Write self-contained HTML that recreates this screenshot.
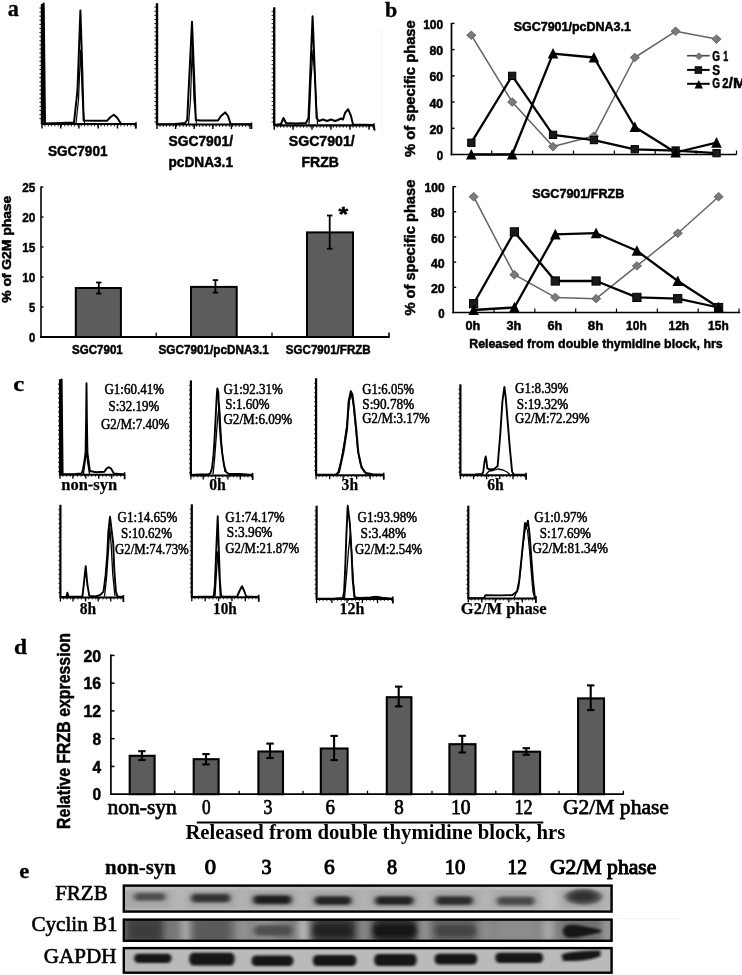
<!DOCTYPE html>
<html><head><meta charset="utf-8"><style>
html,body{margin:0;padding:0;background:#fff;width:742px;height:975px;overflow:hidden}
svg{display:block;will-change:transform}
</style></head><body>
<svg width="742" height="975" viewBox="0 0 742 975" font-family="'Liberation Sans', sans-serif">
<text x="7.80" y="15.60" font-family='"Liberation Serif", serif' font-weight="bold" font-size="24" textLength="11.10" lengthAdjust="spacingAndGlyphs" fill="#000" stroke="#000" stroke-width="0.35" stroke-linejoin="round" >a</text>
<line x1="42" y1="4" x2="42" y2="124.5" stroke="#000" stroke-width="2.4" />
<line x1="42" y1="124" x2="136" y2="124" stroke="#000" stroke-width="2.2" />
<line x1="42" y1="124" x2="42" y2="128.5" stroke="#000" stroke-width="1.4" />
<line x1="60.7" y1="124" x2="60.7" y2="128.5" stroke="#000" stroke-width="1.4" />
<line x1="78.9" y1="124" x2="78.9" y2="128.5" stroke="#000" stroke-width="1.4" />
<line x1="98.2" y1="124" x2="98.2" y2="128.5" stroke="#000" stroke-width="1.4" />
<line x1="117.5" y1="124" x2="117.5" y2="128.5" stroke="#000" stroke-width="1.4" />
<line x1="135.6" y1="124" x2="135.6" y2="128.5" stroke="#000" stroke-width="1.4" />
<line x1="136" y1="122" x2="136" y2="128.5" stroke="#000" stroke-width="1.4" />
<polyline points="42.5,124.0 43.6,3.5 44.9,124.0" fill="none" stroke="#000" stroke-width="2.2" stroke-linejoin="round" />
<polyline points="44.9,123.5 60.0,123.0 74.0,122.5 77.5,90.0 80.4,10.5 82.0,60.0 83.6,120.5 95.0,120.8 107.0,120.8 110.0,117.5 113.8,114.8 117.0,117.5 121.0,123.8 136.0,124.0" fill="none" stroke="#000" stroke-width="2.0" stroke-linejoin="round" />
<polyline points="76.0,123.5 78.5,100.0 80.6,50.0 82.5,100.0 84.5,123.0" fill="none" stroke="#000" stroke-width="1.2" stroke-linejoin="round" />
<line x1="39.4" y1="8" x2="42" y2="8" stroke="#000" stroke-width="0.9" />
<line x1="39.4" y1="12.1" x2="42" y2="12.1" stroke="#000" stroke-width="0.9" />
<line x1="39.4" y1="16.2" x2="42" y2="16.2" stroke="#000" stroke-width="0.9" />
<line x1="39.4" y1="20.299999999999997" x2="42" y2="20.299999999999997" stroke="#000" stroke-width="0.9" />
<line x1="39.4" y1="24.4" x2="42" y2="24.4" stroke="#000" stroke-width="0.9" />
<line x1="39.4" y1="28.5" x2="42" y2="28.5" stroke="#000" stroke-width="0.9" />
<line x1="39.4" y1="32.6" x2="42" y2="32.6" stroke="#000" stroke-width="0.9" />
<line x1="39.4" y1="36.7" x2="42" y2="36.7" stroke="#000" stroke-width="0.9" />
<line x1="39.4" y1="40.800000000000004" x2="42" y2="40.800000000000004" stroke="#000" stroke-width="0.9" />
<line x1="39.4" y1="44.900000000000006" x2="42" y2="44.900000000000006" stroke="#000" stroke-width="0.9" />
<line x1="39.4" y1="49.00000000000001" x2="42" y2="49.00000000000001" stroke="#000" stroke-width="0.9" />
<line x1="39.4" y1="53.10000000000001" x2="42" y2="53.10000000000001" stroke="#000" stroke-width="0.9" />
<line x1="39.4" y1="57.20000000000001" x2="42" y2="57.20000000000001" stroke="#000" stroke-width="0.9" />
<line x1="39.4" y1="61.30000000000001" x2="42" y2="61.30000000000001" stroke="#000" stroke-width="0.9" />
<line x1="39.4" y1="65.4" x2="42" y2="65.4" stroke="#000" stroke-width="0.9" />
<line x1="39.4" y1="69.5" x2="42" y2="69.5" stroke="#000" stroke-width="0.9" />
<line x1="39.4" y1="73.6" x2="42" y2="73.6" stroke="#000" stroke-width="0.9" />
<line x1="39.4" y1="77.69999999999999" x2="42" y2="77.69999999999999" stroke="#000" stroke-width="0.9" />
<line x1="39.4" y1="81.79999999999998" x2="42" y2="81.79999999999998" stroke="#000" stroke-width="0.9" />
<line x1="39.4" y1="85.89999999999998" x2="42" y2="85.89999999999998" stroke="#000" stroke-width="0.9" />
<line x1="39.4" y1="89.99999999999997" x2="42" y2="89.99999999999997" stroke="#000" stroke-width="0.9" />
<line x1="39.4" y1="94.09999999999997" x2="42" y2="94.09999999999997" stroke="#000" stroke-width="0.9" />
<line x1="39.4" y1="98.19999999999996" x2="42" y2="98.19999999999996" stroke="#000" stroke-width="0.9" />
<line x1="39.4" y1="102.29999999999995" x2="42" y2="102.29999999999995" stroke="#000" stroke-width="0.9" />
<line x1="39.4" y1="106.39999999999995" x2="42" y2="106.39999999999995" stroke="#000" stroke-width="0.9" />
<line x1="39.4" y1="110.49999999999994" x2="42" y2="110.49999999999994" stroke="#000" stroke-width="0.9" />
<line x1="39.4" y1="114.59999999999994" x2="42" y2="114.59999999999994" stroke="#000" stroke-width="0.9" />
<line x1="39.4" y1="118.69999999999993" x2="42" y2="118.69999999999993" stroke="#000" stroke-width="0.9" />
<line x1="45" y1="124" x2="45" y2="126.4" stroke="#000" stroke-width="0.9" />
<line x1="48.3" y1="124" x2="48.3" y2="126.4" stroke="#000" stroke-width="0.9" />
<line x1="51.599999999999994" y1="124" x2="51.599999999999994" y2="126.4" stroke="#000" stroke-width="0.9" />
<line x1="54.89999999999999" y1="124" x2="54.89999999999999" y2="126.4" stroke="#000" stroke-width="0.9" />
<line x1="58.19999999999999" y1="124" x2="58.19999999999999" y2="126.4" stroke="#000" stroke-width="0.9" />
<line x1="61.499999999999986" y1="124" x2="61.499999999999986" y2="126.4" stroke="#000" stroke-width="0.9" />
<line x1="64.79999999999998" y1="124" x2="64.79999999999998" y2="126.4" stroke="#000" stroke-width="0.9" />
<line x1="68.09999999999998" y1="124" x2="68.09999999999998" y2="126.4" stroke="#000" stroke-width="0.9" />
<line x1="71.39999999999998" y1="124" x2="71.39999999999998" y2="126.4" stroke="#000" stroke-width="0.9" />
<line x1="74.69999999999997" y1="124" x2="74.69999999999997" y2="126.4" stroke="#000" stroke-width="0.9" />
<line x1="77.99999999999997" y1="124" x2="77.99999999999997" y2="126.4" stroke="#000" stroke-width="0.9" />
<line x1="81.29999999999997" y1="124" x2="81.29999999999997" y2="126.4" stroke="#000" stroke-width="0.9" />
<line x1="84.59999999999997" y1="124" x2="84.59999999999997" y2="126.4" stroke="#000" stroke-width="0.9" />
<line x1="87.89999999999996" y1="124" x2="87.89999999999996" y2="126.4" stroke="#000" stroke-width="0.9" />
<line x1="91.19999999999996" y1="124" x2="91.19999999999996" y2="126.4" stroke="#000" stroke-width="0.9" />
<line x1="94.49999999999996" y1="124" x2="94.49999999999996" y2="126.4" stroke="#000" stroke-width="0.9" />
<line x1="97.79999999999995" y1="124" x2="97.79999999999995" y2="126.4" stroke="#000" stroke-width="0.9" />
<line x1="101.09999999999995" y1="124" x2="101.09999999999995" y2="126.4" stroke="#000" stroke-width="0.9" />
<line x1="104.39999999999995" y1="124" x2="104.39999999999995" y2="126.4" stroke="#000" stroke-width="0.9" />
<line x1="107.69999999999995" y1="124" x2="107.69999999999995" y2="126.4" stroke="#000" stroke-width="0.9" />
<line x1="110.99999999999994" y1="124" x2="110.99999999999994" y2="126.4" stroke="#000" stroke-width="0.9" />
<line x1="114.29999999999994" y1="124" x2="114.29999999999994" y2="126.4" stroke="#000" stroke-width="0.9" />
<line x1="117.59999999999994" y1="124" x2="117.59999999999994" y2="126.4" stroke="#000" stroke-width="0.9" />
<line x1="120.89999999999993" y1="124" x2="120.89999999999993" y2="126.4" stroke="#000" stroke-width="0.9" />
<line x1="124.19999999999993" y1="124" x2="124.19999999999993" y2="126.4" stroke="#000" stroke-width="0.9" />
<line x1="127.49999999999993" y1="124" x2="127.49999999999993" y2="126.4" stroke="#000" stroke-width="0.9" />
<line x1="130.79999999999993" y1="124" x2="130.79999999999993" y2="126.4" stroke="#000" stroke-width="0.9" />
<line x1="134.09999999999994" y1="124" x2="134.09999999999994" y2="126.4" stroke="#000" stroke-width="0.9" />
<line x1="157" y1="3.2" x2="157" y2="125.0" stroke="#000" stroke-width="2.4" />
<line x1="157" y1="124.5" x2="251.6" y2="124.5" stroke="#000" stroke-width="2.2" />
<line x1="157" y1="124.5" x2="157" y2="129.0" stroke="#000" stroke-width="1.4" />
<line x1="175.6" y1="124.5" x2="175.6" y2="129.0" stroke="#000" stroke-width="1.4" />
<line x1="194.2" y1="124.5" x2="194.2" y2="129.0" stroke="#000" stroke-width="1.4" />
<line x1="212.8" y1="124.5" x2="212.8" y2="129.0" stroke="#000" stroke-width="1.4" />
<line x1="231.4" y1="124.5" x2="231.4" y2="129.0" stroke="#000" stroke-width="1.4" />
<line x1="250" y1="124.5" x2="250" y2="129.0" stroke="#000" stroke-width="1.4" />
<line x1="251.6" y1="122.5" x2="251.6" y2="129.0" stroke="#000" stroke-width="1.4" />
<polyline points="157.0,124.3 175.0,124.0 185.0,123.0 187.2,120.0 192.0,21.8 195.8,120.0 200.0,120.5 218.0,120.5 221.0,116.0 225.2,112.4 228.0,116.0 230.6,124.0 251.0,124.3" fill="none" stroke="#000" stroke-width="2.0" stroke-linejoin="round" />
<polyline points="188.5,124.0 190.5,100.0 192.3,45.0 194.0,100.0 196.5,123.5" fill="none" stroke="#000" stroke-width="1.2" stroke-linejoin="round" />
<line x1="154.4" y1="7.2" x2="157" y2="7.2" stroke="#000" stroke-width="0.9" />
<line x1="154.4" y1="11.3" x2="157" y2="11.3" stroke="#000" stroke-width="0.9" />
<line x1="154.4" y1="15.4" x2="157" y2="15.4" stroke="#000" stroke-width="0.9" />
<line x1="154.4" y1="19.5" x2="157" y2="19.5" stroke="#000" stroke-width="0.9" />
<line x1="154.4" y1="23.6" x2="157" y2="23.6" stroke="#000" stroke-width="0.9" />
<line x1="154.4" y1="27.700000000000003" x2="157" y2="27.700000000000003" stroke="#000" stroke-width="0.9" />
<line x1="154.4" y1="31.800000000000004" x2="157" y2="31.800000000000004" stroke="#000" stroke-width="0.9" />
<line x1="154.4" y1="35.900000000000006" x2="157" y2="35.900000000000006" stroke="#000" stroke-width="0.9" />
<line x1="154.4" y1="40.00000000000001" x2="157" y2="40.00000000000001" stroke="#000" stroke-width="0.9" />
<line x1="154.4" y1="44.10000000000001" x2="157" y2="44.10000000000001" stroke="#000" stroke-width="0.9" />
<line x1="154.4" y1="48.20000000000001" x2="157" y2="48.20000000000001" stroke="#000" stroke-width="0.9" />
<line x1="154.4" y1="52.30000000000001" x2="157" y2="52.30000000000001" stroke="#000" stroke-width="0.9" />
<line x1="154.4" y1="56.40000000000001" x2="157" y2="56.40000000000001" stroke="#000" stroke-width="0.9" />
<line x1="154.4" y1="60.500000000000014" x2="157" y2="60.500000000000014" stroke="#000" stroke-width="0.9" />
<line x1="154.4" y1="64.60000000000001" x2="157" y2="64.60000000000001" stroke="#000" stroke-width="0.9" />
<line x1="154.4" y1="68.7" x2="157" y2="68.7" stroke="#000" stroke-width="0.9" />
<line x1="154.4" y1="72.8" x2="157" y2="72.8" stroke="#000" stroke-width="0.9" />
<line x1="154.4" y1="76.89999999999999" x2="157" y2="76.89999999999999" stroke="#000" stroke-width="0.9" />
<line x1="154.4" y1="80.99999999999999" x2="157" y2="80.99999999999999" stroke="#000" stroke-width="0.9" />
<line x1="154.4" y1="85.09999999999998" x2="157" y2="85.09999999999998" stroke="#000" stroke-width="0.9" />
<line x1="154.4" y1="89.19999999999997" x2="157" y2="89.19999999999997" stroke="#000" stroke-width="0.9" />
<line x1="154.4" y1="93.29999999999997" x2="157" y2="93.29999999999997" stroke="#000" stroke-width="0.9" />
<line x1="154.4" y1="97.39999999999996" x2="157" y2="97.39999999999996" stroke="#000" stroke-width="0.9" />
<line x1="154.4" y1="101.49999999999996" x2="157" y2="101.49999999999996" stroke="#000" stroke-width="0.9" />
<line x1="154.4" y1="105.59999999999995" x2="157" y2="105.59999999999995" stroke="#000" stroke-width="0.9" />
<line x1="154.4" y1="109.69999999999995" x2="157" y2="109.69999999999995" stroke="#000" stroke-width="0.9" />
<line x1="154.4" y1="113.79999999999994" x2="157" y2="113.79999999999994" stroke="#000" stroke-width="0.9" />
<line x1="154.4" y1="117.89999999999993" x2="157" y2="117.89999999999993" stroke="#000" stroke-width="0.9" />
<line x1="154.4" y1="121.99999999999993" x2="157" y2="121.99999999999993" stroke="#000" stroke-width="0.9" />
<line x1="160" y1="124.5" x2="160" y2="126.9" stroke="#000" stroke-width="0.9" />
<line x1="163.3" y1="124.5" x2="163.3" y2="126.9" stroke="#000" stroke-width="0.9" />
<line x1="166.60000000000002" y1="124.5" x2="166.60000000000002" y2="126.9" stroke="#000" stroke-width="0.9" />
<line x1="169.90000000000003" y1="124.5" x2="169.90000000000003" y2="126.9" stroke="#000" stroke-width="0.9" />
<line x1="173.20000000000005" y1="124.5" x2="173.20000000000005" y2="126.9" stroke="#000" stroke-width="0.9" />
<line x1="176.50000000000006" y1="124.5" x2="176.50000000000006" y2="126.9" stroke="#000" stroke-width="0.9" />
<line x1="179.80000000000007" y1="124.5" x2="179.80000000000007" y2="126.9" stroke="#000" stroke-width="0.9" />
<line x1="183.10000000000008" y1="124.5" x2="183.10000000000008" y2="126.9" stroke="#000" stroke-width="0.9" />
<line x1="186.4000000000001" y1="124.5" x2="186.4000000000001" y2="126.9" stroke="#000" stroke-width="0.9" />
<line x1="189.7000000000001" y1="124.5" x2="189.7000000000001" y2="126.9" stroke="#000" stroke-width="0.9" />
<line x1="193.0000000000001" y1="124.5" x2="193.0000000000001" y2="126.9" stroke="#000" stroke-width="0.9" />
<line x1="196.30000000000013" y1="124.5" x2="196.30000000000013" y2="126.9" stroke="#000" stroke-width="0.9" />
<line x1="199.60000000000014" y1="124.5" x2="199.60000000000014" y2="126.9" stroke="#000" stroke-width="0.9" />
<line x1="202.90000000000015" y1="124.5" x2="202.90000000000015" y2="126.9" stroke="#000" stroke-width="0.9" />
<line x1="206.20000000000016" y1="124.5" x2="206.20000000000016" y2="126.9" stroke="#000" stroke-width="0.9" />
<line x1="209.50000000000017" y1="124.5" x2="209.50000000000017" y2="126.9" stroke="#000" stroke-width="0.9" />
<line x1="212.80000000000018" y1="124.5" x2="212.80000000000018" y2="126.9" stroke="#000" stroke-width="0.9" />
<line x1="216.1000000000002" y1="124.5" x2="216.1000000000002" y2="126.9" stroke="#000" stroke-width="0.9" />
<line x1="219.4000000000002" y1="124.5" x2="219.4000000000002" y2="126.9" stroke="#000" stroke-width="0.9" />
<line x1="222.70000000000022" y1="124.5" x2="222.70000000000022" y2="126.9" stroke="#000" stroke-width="0.9" />
<line x1="226.00000000000023" y1="124.5" x2="226.00000000000023" y2="126.9" stroke="#000" stroke-width="0.9" />
<line x1="229.30000000000024" y1="124.5" x2="229.30000000000024" y2="126.9" stroke="#000" stroke-width="0.9" />
<line x1="232.60000000000025" y1="124.5" x2="232.60000000000025" y2="126.9" stroke="#000" stroke-width="0.9" />
<line x1="235.90000000000026" y1="124.5" x2="235.90000000000026" y2="126.9" stroke="#000" stroke-width="0.9" />
<line x1="239.20000000000027" y1="124.5" x2="239.20000000000027" y2="126.9" stroke="#000" stroke-width="0.9" />
<line x1="242.50000000000028" y1="124.5" x2="242.50000000000028" y2="126.9" stroke="#000" stroke-width="0.9" />
<line x1="245.8000000000003" y1="124.5" x2="245.8000000000003" y2="126.9" stroke="#000" stroke-width="0.9" />
<line x1="249.1000000000003" y1="124.5" x2="249.1000000000003" y2="126.9" stroke="#000" stroke-width="0.9" />
<line x1="274.2" y1="7.3" x2="274.2" y2="125.8" stroke="#000" stroke-width="2.4" />
<line x1="274.2" y1="125.3" x2="374" y2="125.3" stroke="#000" stroke-width="2.2" />
<line x1="274.2" y1="125.3" x2="274.2" y2="129.8" stroke="#000" stroke-width="1.4" />
<line x1="293" y1="125.3" x2="293" y2="129.8" stroke="#000" stroke-width="1.4" />
<line x1="312" y1="125.3" x2="312" y2="129.8" stroke="#000" stroke-width="1.4" />
<line x1="331" y1="125.3" x2="331" y2="129.8" stroke="#000" stroke-width="1.4" />
<line x1="350" y1="125.3" x2="350" y2="129.8" stroke="#000" stroke-width="1.4" />
<line x1="369" y1="125.3" x2="369" y2="129.8" stroke="#000" stroke-width="1.4" />
<line x1="374" y1="123.3" x2="374" y2="129.8" stroke="#000" stroke-width="1.4" />
<polyline points="274.2,125.0 281.0,124.0 283.5,118.0 286.0,123.0 296.0,123.5 306.0,123.0 308.5,118.0 312.6,16.2 316.6,118.0 319.0,121.0 323.0,119.5 327.0,121.0 331.0,119.5 335.0,121.0 338.0,120.0 341.0,118.5 343.0,119.5 345.0,113.0 348.1,109.2 351.0,116.0 353.0,124.5 374.0,125.0" fill="none" stroke="#000" stroke-width="2.0" stroke-linejoin="round" />
<polyline points="309.0,124.0 311.0,80.0 313.0,50.0 315.0,80.0 317.5,124.0" fill="none" stroke="#000" stroke-width="1.2" stroke-linejoin="round" />
<line x1="271.59999999999997" y1="11.3" x2="274.2" y2="11.3" stroke="#000" stroke-width="0.9" />
<line x1="271.59999999999997" y1="15.4" x2="274.2" y2="15.4" stroke="#000" stroke-width="0.9" />
<line x1="271.59999999999997" y1="19.5" x2="274.2" y2="19.5" stroke="#000" stroke-width="0.9" />
<line x1="271.59999999999997" y1="23.6" x2="274.2" y2="23.6" stroke="#000" stroke-width="0.9" />
<line x1="271.59999999999997" y1="27.700000000000003" x2="274.2" y2="27.700000000000003" stroke="#000" stroke-width="0.9" />
<line x1="271.59999999999997" y1="31.800000000000004" x2="274.2" y2="31.800000000000004" stroke="#000" stroke-width="0.9" />
<line x1="271.59999999999997" y1="35.900000000000006" x2="274.2" y2="35.900000000000006" stroke="#000" stroke-width="0.9" />
<line x1="271.59999999999997" y1="40.00000000000001" x2="274.2" y2="40.00000000000001" stroke="#000" stroke-width="0.9" />
<line x1="271.59999999999997" y1="44.10000000000001" x2="274.2" y2="44.10000000000001" stroke="#000" stroke-width="0.9" />
<line x1="271.59999999999997" y1="48.20000000000001" x2="274.2" y2="48.20000000000001" stroke="#000" stroke-width="0.9" />
<line x1="271.59999999999997" y1="52.30000000000001" x2="274.2" y2="52.30000000000001" stroke="#000" stroke-width="0.9" />
<line x1="271.59999999999997" y1="56.40000000000001" x2="274.2" y2="56.40000000000001" stroke="#000" stroke-width="0.9" />
<line x1="271.59999999999997" y1="60.500000000000014" x2="274.2" y2="60.500000000000014" stroke="#000" stroke-width="0.9" />
<line x1="271.59999999999997" y1="64.60000000000001" x2="274.2" y2="64.60000000000001" stroke="#000" stroke-width="0.9" />
<line x1="271.59999999999997" y1="68.7" x2="274.2" y2="68.7" stroke="#000" stroke-width="0.9" />
<line x1="271.59999999999997" y1="72.8" x2="274.2" y2="72.8" stroke="#000" stroke-width="0.9" />
<line x1="271.59999999999997" y1="76.89999999999999" x2="274.2" y2="76.89999999999999" stroke="#000" stroke-width="0.9" />
<line x1="271.59999999999997" y1="80.99999999999999" x2="274.2" y2="80.99999999999999" stroke="#000" stroke-width="0.9" />
<line x1="271.59999999999997" y1="85.09999999999998" x2="274.2" y2="85.09999999999998" stroke="#000" stroke-width="0.9" />
<line x1="271.59999999999997" y1="89.19999999999997" x2="274.2" y2="89.19999999999997" stroke="#000" stroke-width="0.9" />
<line x1="271.59999999999997" y1="93.29999999999997" x2="274.2" y2="93.29999999999997" stroke="#000" stroke-width="0.9" />
<line x1="271.59999999999997" y1="97.39999999999996" x2="274.2" y2="97.39999999999996" stroke="#000" stroke-width="0.9" />
<line x1="271.59999999999997" y1="101.49999999999996" x2="274.2" y2="101.49999999999996" stroke="#000" stroke-width="0.9" />
<line x1="271.59999999999997" y1="105.59999999999995" x2="274.2" y2="105.59999999999995" stroke="#000" stroke-width="0.9" />
<line x1="271.59999999999997" y1="109.69999999999995" x2="274.2" y2="109.69999999999995" stroke="#000" stroke-width="0.9" />
<line x1="271.59999999999997" y1="113.79999999999994" x2="274.2" y2="113.79999999999994" stroke="#000" stroke-width="0.9" />
<line x1="271.59999999999997" y1="117.89999999999993" x2="274.2" y2="117.89999999999993" stroke="#000" stroke-width="0.9" />
<line x1="271.59999999999997" y1="121.99999999999993" x2="274.2" y2="121.99999999999993" stroke="#000" stroke-width="0.9" />
<line x1="277.2" y1="125.3" x2="277.2" y2="127.7" stroke="#000" stroke-width="0.9" />
<line x1="280.5" y1="125.3" x2="280.5" y2="127.7" stroke="#000" stroke-width="0.9" />
<line x1="283.8" y1="125.3" x2="283.8" y2="127.7" stroke="#000" stroke-width="0.9" />
<line x1="287.1" y1="125.3" x2="287.1" y2="127.7" stroke="#000" stroke-width="0.9" />
<line x1="290.40000000000003" y1="125.3" x2="290.40000000000003" y2="127.7" stroke="#000" stroke-width="0.9" />
<line x1="293.70000000000005" y1="125.3" x2="293.70000000000005" y2="127.7" stroke="#000" stroke-width="0.9" />
<line x1="297.00000000000006" y1="125.3" x2="297.00000000000006" y2="127.7" stroke="#000" stroke-width="0.9" />
<line x1="300.30000000000007" y1="125.3" x2="300.30000000000007" y2="127.7" stroke="#000" stroke-width="0.9" />
<line x1="303.6000000000001" y1="125.3" x2="303.6000000000001" y2="127.7" stroke="#000" stroke-width="0.9" />
<line x1="306.9000000000001" y1="125.3" x2="306.9000000000001" y2="127.7" stroke="#000" stroke-width="0.9" />
<line x1="310.2000000000001" y1="125.3" x2="310.2000000000001" y2="127.7" stroke="#000" stroke-width="0.9" />
<line x1="313.5000000000001" y1="125.3" x2="313.5000000000001" y2="127.7" stroke="#000" stroke-width="0.9" />
<line x1="316.8000000000001" y1="125.3" x2="316.8000000000001" y2="127.7" stroke="#000" stroke-width="0.9" />
<line x1="320.10000000000014" y1="125.3" x2="320.10000000000014" y2="127.7" stroke="#000" stroke-width="0.9" />
<line x1="323.40000000000015" y1="125.3" x2="323.40000000000015" y2="127.7" stroke="#000" stroke-width="0.9" />
<line x1="326.70000000000016" y1="125.3" x2="326.70000000000016" y2="127.7" stroke="#000" stroke-width="0.9" />
<line x1="330.00000000000017" y1="125.3" x2="330.00000000000017" y2="127.7" stroke="#000" stroke-width="0.9" />
<line x1="333.3000000000002" y1="125.3" x2="333.3000000000002" y2="127.7" stroke="#000" stroke-width="0.9" />
<line x1="336.6000000000002" y1="125.3" x2="336.6000000000002" y2="127.7" stroke="#000" stroke-width="0.9" />
<line x1="339.9000000000002" y1="125.3" x2="339.9000000000002" y2="127.7" stroke="#000" stroke-width="0.9" />
<line x1="343.2000000000002" y1="125.3" x2="343.2000000000002" y2="127.7" stroke="#000" stroke-width="0.9" />
<line x1="346.5000000000002" y1="125.3" x2="346.5000000000002" y2="127.7" stroke="#000" stroke-width="0.9" />
<line x1="349.80000000000024" y1="125.3" x2="349.80000000000024" y2="127.7" stroke="#000" stroke-width="0.9" />
<line x1="353.10000000000025" y1="125.3" x2="353.10000000000025" y2="127.7" stroke="#000" stroke-width="0.9" />
<line x1="356.40000000000026" y1="125.3" x2="356.40000000000026" y2="127.7" stroke="#000" stroke-width="0.9" />
<line x1="359.7000000000003" y1="125.3" x2="359.7000000000003" y2="127.7" stroke="#000" stroke-width="0.9" />
<line x1="363.0000000000003" y1="125.3" x2="363.0000000000003" y2="127.7" stroke="#000" stroke-width="0.9" />
<line x1="366.3000000000003" y1="125.3" x2="366.3000000000003" y2="127.7" stroke="#000" stroke-width="0.9" />
<line x1="369.6000000000003" y1="125.3" x2="369.6000000000003" y2="127.7" stroke="#000" stroke-width="0.9" />
<line x1="372.9000000000003" y1="125.3" x2="372.9000000000003" y2="127.7" stroke="#000" stroke-width="0.9" />
<line x1="374" y1="125.3" x2="374.7" y2="130.7" stroke="#000" stroke-width="1.6" />
<text x="47.90" y="156.40" font-family='"Liberation Sans", sans-serif' font-weight="bold" font-size="14.5" textLength="59.62" lengthAdjust="spacingAndGlyphs" fill="#000" stroke="#000" stroke-width="0.5" stroke-linejoin="round" >SGC7901</text>
<text x="168.50" y="146.40" font-family='"Liberation Sans", sans-serif' font-weight="bold" font-size="15" textLength="64.49" lengthAdjust="spacingAndGlyphs" fill="#000" stroke="#000" stroke-width="0.5" stroke-linejoin="round" >SGC7901/</text>
<text x="168.50" y="167.40" font-family='"Liberation Sans", sans-serif' font-weight="bold" font-size="15" textLength="64.48" lengthAdjust="spacingAndGlyphs" fill="#000" stroke="#000" stroke-width="0.5" stroke-linejoin="round" >pcDNA3.1</text>
<text x="288.80" y="146.40" font-family='"Liberation Sans", sans-serif' font-weight="bold" font-size="15" textLength="65.89" lengthAdjust="spacingAndGlyphs" fill="#000" stroke="#000" stroke-width="0.5" stroke-linejoin="round" >SGC7901/</text>
<text x="301.50" y="167.40" font-family='"Liberation Sans", sans-serif' font-weight="bold" font-size="15" textLength="37.42" lengthAdjust="spacingAndGlyphs" fill="#000" stroke="#000" stroke-width="0.5" stroke-linejoin="round" >FRZB</text>
<line x1="41" y1="186.5" x2="41" y2="337.8" stroke="#000" stroke-width="1.6" />
<line x1="40.2" y1="337" x2="389.5" y2="337" stroke="#000" stroke-width="1.8" />
<line x1="41" y1="187.0" x2="43.5" y2="187.0" stroke="#000" stroke-width="1.3" />
<line x1="41" y1="217.0" x2="43.5" y2="217.0" stroke="#000" stroke-width="1.3" />
<line x1="41" y1="247.0" x2="43.5" y2="247.0" stroke="#000" stroke-width="1.3" />
<line x1="41" y1="277.0" x2="43.5" y2="277.0" stroke="#000" stroke-width="1.3" />
<line x1="41" y1="307.0" x2="43.5" y2="307.0" stroke="#000" stroke-width="1.3" />
<line x1="156.2" y1="332.5" x2="156.2" y2="337" stroke="#000" stroke-width="1.2" />
<line x1="272" y1="332.5" x2="272" y2="337" stroke="#000" stroke-width="1.2" />
<line x1="389" y1="332.5" x2="389" y2="337.5" stroke="#000" stroke-width="1.6" />
<text x="22.20" y="191.70" font-family='"Liberation Sans", sans-serif' font-weight="bold" font-size="13.2" textLength="13.13" lengthAdjust="spacingAndGlyphs" fill="#000" stroke="#000" stroke-width="0.5" stroke-linejoin="round" >25</text>
<text x="22.20" y="221.70" font-family='"Liberation Sans", sans-serif' font-weight="bold" font-size="13.2" textLength="13.13" lengthAdjust="spacingAndGlyphs" fill="#000" stroke="#000" stroke-width="0.5" stroke-linejoin="round" >20</text>
<text x="22.20" y="251.70" font-family='"Liberation Sans", sans-serif' font-weight="bold" font-size="13.2" textLength="13.13" lengthAdjust="spacingAndGlyphs" fill="#000" stroke="#000" stroke-width="0.5" stroke-linejoin="round" >15</text>
<text x="22.20" y="281.70" font-family='"Liberation Sans", sans-serif' font-weight="bold" font-size="13.2" textLength="13.13" lengthAdjust="spacingAndGlyphs" fill="#000" stroke="#000" stroke-width="0.5" stroke-linejoin="round" >10</text>
<text x="29.10" y="311.70" font-family='"Liberation Sans", sans-serif' font-weight="bold" font-size="13.2" textLength="6.21" lengthAdjust="spacingAndGlyphs" fill="#000" stroke="#000" stroke-width="0.5" stroke-linejoin="round" >5</text>
<text x="29.10" y="341.70" font-family='"Liberation Sans", sans-serif' font-weight="bold" font-size="13.2" textLength="6.21" lengthAdjust="spacingAndGlyphs" fill="#000" stroke="#000" stroke-width="0.5" stroke-linejoin="round" >0</text>
<text transform="translate(10.70,302.80) rotate(-90)" x="0" y="0" font-family='"Liberation Sans", sans-serif' font-weight="bold" font-size="12.5" textLength="107.08" lengthAdjust="spacingAndGlyphs" fill="#000" stroke="#000" stroke-width="0.5" stroke-linejoin="round">% of G2M phase</text>
<rect x="75.8" y="288.0" width="45.1" height="49.0" fill="#5c5c5c" stroke="#000" stroke-width="2.0" />
<rect x="191.0" y="286.9" width="45.7" height="50.1" fill="#5c5c5c" stroke="#000" stroke-width="2.0" />
<rect x="307.0" y="232.4" width="46.0" height="104.6" fill="#5c5c5c" stroke="#000" stroke-width="2.0" />
<line x1="98.8" y1="282.5" x2="98.8" y2="293.6" stroke="#000" stroke-width="1.8" />
<line x1="96.1" y1="282.5" x2="101.5" y2="282.5" stroke="#000" stroke-width="1.8" />
<line x1="96.1" y1="293.6" x2="101.5" y2="293.6" stroke="#000" stroke-width="1.8" />
<line x1="215.4" y1="280.1" x2="215.4" y2="292.6" stroke="#000" stroke-width="1.8" />
<line x1="212.70000000000002" y1="280.1" x2="218.1" y2="280.1" stroke="#000" stroke-width="1.8" />
<line x1="212.70000000000002" y1="292.6" x2="218.1" y2="292.6" stroke="#000" stroke-width="1.8" />
<line x1="329.7" y1="215.5" x2="329.7" y2="248.7" stroke="#000" stroke-width="1.8" />
<line x1="327.0" y1="215.5" x2="332.4" y2="215.5" stroke="#000" stroke-width="1.8" />
<line x1="327.0" y1="248.7" x2="332.4" y2="248.7" stroke="#000" stroke-width="1.8" />
<text x="338.50" y="221.00" font-family='"Liberation Sans", sans-serif' font-weight="bold" font-size="20" textLength="9.58" lengthAdjust="spacingAndGlyphs" fill="#000" stroke="#000" stroke-width="0.5" stroke-linejoin="round" >*</text>
<text x="72.00" y="354.30" font-family='"Liberation Sans", sans-serif' font-weight="bold" font-size="12.3" textLength="50.82" lengthAdjust="spacingAndGlyphs" fill="#000" stroke="#000" stroke-width="0.5" stroke-linejoin="round" >SGC7901</text>
<text x="158.50" y="354.30" font-family='"Liberation Sans", sans-serif' font-weight="bold" font-size="12.3" textLength="110.38" lengthAdjust="spacingAndGlyphs" fill="#000" stroke="#000" stroke-width="0.5" stroke-linejoin="round" >SGC7901/pcDNA3.1</text>
<text x="285.80" y="354.30" font-family='"Liberation Sans", sans-serif' font-weight="bold" font-size="12.3" textLength="84.91" lengthAdjust="spacingAndGlyphs" fill="#000" stroke="#000" stroke-width="0.5" stroke-linejoin="round" >SGC7901/FRZB</text>
<text x="385.00" y="17.40" font-family='"Liberation Serif", serif' font-weight="bold" font-size="22" textLength="12.23" lengthAdjust="spacingAndGlyphs" fill="#000" stroke="#000" stroke-width="0.35" stroke-linejoin="round" >b</text>
<line x1="451.5" y1="22.900000000000006" x2="451.5" y2="155.3" stroke="#000" stroke-width="1.7" />
<line x1="450.7" y1="154.5" x2="736.5" y2="154.5" stroke="#000" stroke-width="1.7" />
<line x1="451.5" y1="23.400000000000006" x2="454.5" y2="23.400000000000006" stroke="#000" stroke-width="1.4" />
<line x1="451.5" y1="49.620000000000005" x2="454.5" y2="49.620000000000005" stroke="#000" stroke-width="1.4" />
<line x1="451.5" y1="75.84" x2="454.5" y2="75.84" stroke="#000" stroke-width="1.4" />
<line x1="451.5" y1="102.06" x2="454.5" y2="102.06" stroke="#000" stroke-width="1.4" />
<line x1="451.5" y1="128.28" x2="454.5" y2="128.28" stroke="#000" stroke-width="1.4" />
<line x1="491.735" y1="150.5" x2="491.735" y2="154.5" stroke="#000" stroke-width="1.2" />
<line x1="532.6049999999999" y1="150.5" x2="532.6049999999999" y2="154.5" stroke="#000" stroke-width="1.2" />
<line x1="573.4749999999999" y1="150.5" x2="573.4749999999999" y2="154.5" stroke="#000" stroke-width="1.2" />
<line x1="614.3449999999999" y1="150.5" x2="614.3449999999999" y2="154.5" stroke="#000" stroke-width="1.2" />
<line x1="655.2149999999999" y1="150.5" x2="655.2149999999999" y2="154.5" stroke="#000" stroke-width="1.2" />
<line x1="696.0849999999999" y1="150.5" x2="696.0849999999999" y2="154.5" stroke="#000" stroke-width="1.2" />
<line x1="736.5" y1="150.5" x2="736.5" y2="154.5" stroke="#000" stroke-width="1.2" />
<text x="423.20" y="29.00" font-family='"Liberation Sans", sans-serif' font-weight="bold" font-size="12.4" textLength="19.98" lengthAdjust="spacingAndGlyphs" fill="#000" stroke="#000" stroke-width="0.5" stroke-linejoin="round" >100</text>
<text x="429.50" y="55.22" font-family='"Liberation Sans", sans-serif' font-weight="bold" font-size="12.4" textLength="13.73" lengthAdjust="spacingAndGlyphs" fill="#000" stroke="#000" stroke-width="0.5" stroke-linejoin="round" >80</text>
<text x="429.50" y="81.44" font-family='"Liberation Sans", sans-serif' font-weight="bold" font-size="12.4" textLength="13.73" lengthAdjust="spacingAndGlyphs" fill="#000" stroke="#000" stroke-width="0.5" stroke-linejoin="round" >60</text>
<text x="429.50" y="107.66" font-family='"Liberation Sans", sans-serif' font-weight="bold" font-size="12.4" textLength="13.73" lengthAdjust="spacingAndGlyphs" fill="#000" stroke="#000" stroke-width="0.5" stroke-linejoin="round" >40</text>
<text x="429.50" y="133.88" font-family='"Liberation Sans", sans-serif' font-weight="bold" font-size="12.4" textLength="13.73" lengthAdjust="spacingAndGlyphs" fill="#000" stroke="#000" stroke-width="0.5" stroke-linejoin="round" >20</text>
<text x="436.80" y="160.10" font-family='"Liberation Sans", sans-serif' font-weight="bold" font-size="12.4" textLength="6.41" lengthAdjust="spacingAndGlyphs" fill="#000" stroke="#000" stroke-width="0.5" stroke-linejoin="round" >0</text>
<polyline points="471.3,35.2 512.2,102.1 553.0,146.6 593.9,136.1 634.8,57.5 675.6,31.3 716.5,39.1" fill="none" stroke="#646464" stroke-width="1.5" stroke-linejoin="round" />
<polyline points="471.3,142.7 512.2,75.8 553.0,134.8 593.9,140.1 634.8,149.3 675.6,150.6 716.5,153.2" fill="none" stroke="#000" stroke-width="2.3" stroke-linejoin="round" />
<polyline points="471.3,154.5 512.2,154.5 553.0,53.6 593.9,57.5 634.8,127.0 675.6,152.5 716.5,142.7" fill="none" stroke="#000" stroke-width="2.3" stroke-linejoin="round" />
<path d="M466.7,35.2 L471.3,31.0 L475.9,35.2 L471.3,39.4 Z" fill="#7a7a7a" stroke="#606060" stroke-width="0.9"/>
<path d="M507.6,102.1 L512.2,97.8 L516.8,102.1 L512.2,106.3 Z" fill="#7a7a7a" stroke="#606060" stroke-width="0.9"/>
<path d="M548.4,146.6 L553.0,142.4 L557.6,146.6 L553.0,150.9 Z" fill="#7a7a7a" stroke="#606060" stroke-width="0.9"/>
<path d="M589.3,136.1 L593.9,131.9 L598.5,136.1 L593.9,140.4 Z" fill="#7a7a7a" stroke="#606060" stroke-width="0.9"/>
<path d="M630.2,57.5 L634.8,53.3 L639.4,57.5 L634.8,61.7 Z" fill="#7a7a7a" stroke="#606060" stroke-width="0.9"/>
<path d="M671.0,31.3 L675.6,27.0 L680.2,31.3 L675.6,35.5 Z" fill="#7a7a7a" stroke="#606060" stroke-width="0.9"/>
<path d="M711.9,39.1 L716.5,34.9 L721.1,39.1 L716.5,43.4 Z" fill="#7a7a7a" stroke="#606060" stroke-width="0.9"/>
<rect x="467.7" y="139.1" width="7.3" height="7.3" fill="#1a1a1a" stroke="#000" stroke-width="1.0" />
<rect x="508.5" y="72.2" width="7.3" height="7.3" fill="#1a1a1a" stroke="#000" stroke-width="1.0" />
<rect x="549.4" y="131.2" width="7.3" height="7.3" fill="#1a1a1a" stroke="#000" stroke-width="1.0" />
<rect x="590.3" y="136.4" width="7.3" height="7.3" fill="#1a1a1a" stroke="#000" stroke-width="1.0" />
<rect x="631.1" y="145.6" width="7.3" height="7.3" fill="#1a1a1a" stroke="#000" stroke-width="1.0" />
<rect x="672.0" y="146.9" width="7.3" height="7.3" fill="#1a1a1a" stroke="#000" stroke-width="1.0" />
<rect x="712.9" y="149.5" width="7.3" height="7.3" fill="#1a1a1a" stroke="#000" stroke-width="1.0" />
<path d="M466.0,159.5 L471.3,148.9 L476.6,159.5 Z" fill="#000"/>
<path d="M506.9,159.5 L512.2,148.9 L517.5,159.5 Z" fill="#000"/>
<path d="M547.7,58.5 L553.0,47.9 L558.3,58.5 Z" fill="#000"/>
<path d="M588.6,62.5 L593.9,51.9 L599.2,62.5 Z" fill="#000"/>
<path d="M629.5,132.0 L634.8,121.4 L640.1,132.0 Z" fill="#000"/>
<path d="M670.4,157.5 L675.6,146.9 L680.9,157.5 Z" fill="#000"/>
<path d="M711.2,147.7 L716.5,137.1 L721.8,147.7 Z" fill="#000"/>
<text x="513.70" y="30.50" font-family='"Liberation Sans", sans-serif' font-weight="bold" font-size="11.9" textLength="117.18" lengthAdjust="spacingAndGlyphs" fill="#000" stroke="#000" stroke-width="0.5" stroke-linejoin="round" >SGC7901/pcDNA3.1</text>
<text transform="translate(415.20,157.00) rotate(-90)" x="0" y="0" font-family='"Liberation Sans", sans-serif' font-weight="bold" font-size="15" textLength="136.71" lengthAdjust="spacingAndGlyphs" fill="#000" stroke="#000" stroke-width="0.5" stroke-linejoin="round">% of specific phase</text>
<line x1="687.1" y1="55.7" x2="709.7" y2="55.7" stroke="#444" stroke-width="1.6" />
<path d="M695.4,56.2 L699.0,52.9 L702.6,56.2 L699.0,59.5 Z" fill="#7a7a7a" stroke="#606060" stroke-width="0.9"/>
<text x="712.20" y="60.80" font-family='"Liberation Sans", sans-serif' font-weight="bold" font-size="14" textLength="7.78" lengthAdjust="spacingAndGlyphs" fill="#000" stroke="#000" stroke-width="0.5" stroke-linejoin="round" >G</text>
<text x="723.20" y="60.80" font-family='"Liberation Sans", sans-serif' font-weight="bold" font-size="14" textLength="5.01" lengthAdjust="spacingAndGlyphs" fill="#000" stroke="#000" stroke-width="0.5" stroke-linejoin="round" >1</text>
<line x1="687.1" y1="69.9" x2="709.7" y2="69.9" stroke="#000" stroke-width="2.0" />
<rect x="695.1" y="66.8" width="6.5" height="6.5" fill="#1a1a1a" stroke="#000" stroke-width="1.0" />
<text x="712.20" y="75.00" font-family='"Liberation Sans", sans-serif' font-weight="bold" font-size="14" textLength="7.82" lengthAdjust="spacingAndGlyphs" fill="#000" stroke="#000" stroke-width="0.5" stroke-linejoin="round" >S</text>
<line x1="687.1" y1="83.8" x2="709.7" y2="83.8" stroke="#000" stroke-width="2.0" />
<path d="M694.6,88.4 L698.8,80.0 L703.0,88.4 Z" fill="#000"/>
<text x="712.20" y="88.30" font-family='"Liberation Sans", sans-serif' font-weight="bold" font-size="14" textLength="7.78" lengthAdjust="spacingAndGlyphs" fill="#000" stroke="#000" stroke-width="0.5" stroke-linejoin="round" >G</text>
<text x="722.20" y="88.30" font-family='"Liberation Sans", sans-serif' font-weight="bold" font-size="14" textLength="6.21" lengthAdjust="spacingAndGlyphs" fill="#000" stroke="#000" stroke-width="0.5" stroke-linejoin="round" >2</text>
<text x="728.50" y="88.30" font-family='"Liberation Sans", sans-serif' font-weight="bold" font-size="14" textLength="17.51" lengthAdjust="spacingAndGlyphs" fill="#000" stroke="#000" stroke-width="0.5" stroke-linejoin="round" >/M</text>
<line x1="453.2" y1="186.10000000000002" x2="453.2" y2="313.3" stroke="#000" stroke-width="1.7" />
<line x1="452.4" y1="312.5" x2="740.3" y2="312.5" stroke="#000" stroke-width="1.7" />
<line x1="453.2" y1="186.60000000000002" x2="456.2" y2="186.60000000000002" stroke="#000" stroke-width="1.4" />
<line x1="453.2" y1="211.78" x2="456.2" y2="211.78" stroke="#000" stroke-width="1.4" />
<line x1="453.2" y1="236.96" x2="456.2" y2="236.96" stroke="#000" stroke-width="1.4" />
<line x1="453.2" y1="262.14" x2="456.2" y2="262.14" stroke="#000" stroke-width="1.4" />
<line x1="453.2" y1="287.32" x2="456.2" y2="287.32" stroke="#000" stroke-width="1.4" />
<line x1="494.01500000000004" y1="308.5" x2="494.01500000000004" y2="312.5" stroke="#000" stroke-width="1.2" />
<line x1="534.845" y1="308.5" x2="534.845" y2="312.5" stroke="#000" stroke-width="1.2" />
<line x1="575.675" y1="308.5" x2="575.675" y2="312.5" stroke="#000" stroke-width="1.2" />
<line x1="616.5050000000001" y1="308.5" x2="616.5050000000001" y2="312.5" stroke="#000" stroke-width="1.2" />
<line x1="657.335" y1="308.5" x2="657.335" y2="312.5" stroke="#000" stroke-width="1.2" />
<line x1="698.165" y1="308.5" x2="698.165" y2="312.5" stroke="#000" stroke-width="1.2" />
<line x1="738.9950000000001" y1="308.5" x2="738.9950000000001" y2="312.5" stroke="#000" stroke-width="1.2" />
<text x="424.60" y="192.20" font-family='"Liberation Sans", sans-serif' font-weight="bold" font-size="12.4" textLength="19.98" lengthAdjust="spacingAndGlyphs" fill="#000" stroke="#000" stroke-width="0.5" stroke-linejoin="round" >100</text>
<text x="430.90" y="217.38" font-family='"Liberation Sans", sans-serif' font-weight="bold" font-size="12.4" textLength="13.73" lengthAdjust="spacingAndGlyphs" fill="#000" stroke="#000" stroke-width="0.5" stroke-linejoin="round" >80</text>
<text x="430.90" y="242.56" font-family='"Liberation Sans", sans-serif' font-weight="bold" font-size="12.4" textLength="13.73" lengthAdjust="spacingAndGlyphs" fill="#000" stroke="#000" stroke-width="0.5" stroke-linejoin="round" >60</text>
<text x="430.90" y="267.74" font-family='"Liberation Sans", sans-serif' font-weight="bold" font-size="12.4" textLength="13.73" lengthAdjust="spacingAndGlyphs" fill="#000" stroke="#000" stroke-width="0.5" stroke-linejoin="round" >40</text>
<text x="430.90" y="292.92" font-family='"Liberation Sans", sans-serif' font-weight="bold" font-size="12.4" textLength="13.73" lengthAdjust="spacingAndGlyphs" fill="#000" stroke="#000" stroke-width="0.5" stroke-linejoin="round" >20</text>
<text x="438.20" y="318.10" font-family='"Liberation Sans", sans-serif' font-weight="bold" font-size="12.4" textLength="6.41" lengthAdjust="spacingAndGlyphs" fill="#000" stroke="#000" stroke-width="0.5" stroke-linejoin="round" >0</text>
<polyline points="473.6,196.7 514.4,274.7 555.3,297.4 596.1,298.7 636.9,265.9 677.8,233.2 718.6,196.7" fill="none" stroke="#646464" stroke-width="1.5" stroke-linejoin="round" />
<polyline points="473.6,303.7 514.4,231.9 555.3,281.0 596.1,281.0 636.9,297.4 677.8,298.7 718.6,307.5" fill="none" stroke="#000" stroke-width="2.3" stroke-linejoin="round" />
<polyline points="473.6,310.0 514.4,307.5 555.3,234.4 596.1,233.2 636.9,250.8 677.8,281.0 718.6,307.5" fill="none" stroke="#000" stroke-width="2.3" stroke-linejoin="round" />
<path d="M469.0,196.7 L473.6,192.4 L478.2,196.7 L473.6,200.9 Z" fill="#7a7a7a" stroke="#606060" stroke-width="0.9"/>
<path d="M509.8,274.7 L514.4,270.5 L519.0,274.7 L514.4,279.0 Z" fill="#7a7a7a" stroke="#606060" stroke-width="0.9"/>
<path d="M550.7,297.4 L555.3,293.2 L559.9,297.4 L555.3,301.6 Z" fill="#7a7a7a" stroke="#606060" stroke-width="0.9"/>
<path d="M591.5,298.7 L596.1,294.4 L600.7,298.7 L596.1,302.9 Z" fill="#7a7a7a" stroke="#606060" stroke-width="0.9"/>
<path d="M632.3,265.9 L636.9,261.7 L641.5,265.9 L636.9,270.1 Z" fill="#7a7a7a" stroke="#606060" stroke-width="0.9"/>
<path d="M673.1,233.2 L677.8,229.0 L682.4,233.2 L677.8,237.4 Z" fill="#7a7a7a" stroke="#606060" stroke-width="0.9"/>
<path d="M714.0,196.7 L718.6,192.4 L723.2,196.7 L718.6,200.9 Z" fill="#7a7a7a" stroke="#606060" stroke-width="0.9"/>
<rect x="469.5" y="299.6" width="8.2" height="8.2" fill="#1a1a1a" stroke="#000" stroke-width="1.0" />
<rect x="510.3" y="227.8" width="8.2" height="8.2" fill="#1a1a1a" stroke="#000" stroke-width="1.0" />
<rect x="551.2" y="276.9" width="8.2" height="8.2" fill="#1a1a1a" stroke="#000" stroke-width="1.0" />
<rect x="592.0" y="276.9" width="8.2" height="8.2" fill="#1a1a1a" stroke="#000" stroke-width="1.0" />
<rect x="632.8" y="293.3" width="8.2" height="8.2" fill="#1a1a1a" stroke="#000" stroke-width="1.0" />
<rect x="673.6" y="294.6" width="8.2" height="8.2" fill="#1a1a1a" stroke="#000" stroke-width="1.0" />
<rect x="714.5" y="303.4" width="8.2" height="8.2" fill="#1a1a1a" stroke="#000" stroke-width="1.0" />
<path d="M468.3,315.0 L473.6,304.4 L478.9,315.0 Z" fill="#000"/>
<path d="M509.1,312.4 L514.4,301.8 L519.7,312.4 Z" fill="#000"/>
<path d="M550.0,239.4 L555.3,228.8 L560.6,239.4 Z" fill="#000"/>
<path d="M590.8,238.2 L596.1,227.6 L601.4,238.2 Z" fill="#000"/>
<path d="M631.6,255.8 L636.9,245.2 L642.2,255.8 Z" fill="#000"/>
<path d="M672.5,286.0 L677.8,275.4 L683.0,286.0 Z" fill="#000"/>
<path d="M713.3,312.4 L718.6,301.8 L723.9,312.4 Z" fill="#000"/>
<text x="532.20" y="197.50" font-family='"Liberation Sans", sans-serif' font-weight="bold" font-size="13.3" textLength="92.11" lengthAdjust="spacingAndGlyphs" fill="#000" stroke="#000" stroke-width="0.5" stroke-linejoin="round" >SGC7901/FRZB</text>
<text transform="translate(415.00,315.60) rotate(-90)" x="0" y="0" font-family='"Liberation Sans", sans-serif' font-weight="bold" font-size="15" textLength="135.91" lengthAdjust="spacingAndGlyphs" fill="#000" stroke="#000" stroke-width="0.5" stroke-linejoin="round">% of specific phase</text>
<text x="465.40" y="330.00" font-family='"Liberation Sans", sans-serif' font-weight="bold" font-size="12.6" textLength="14.83" lengthAdjust="spacingAndGlyphs" fill="#000" stroke="#000" stroke-width="0.5" stroke-linejoin="round" >0h</text>
<text x="506.50" y="330.00" font-family='"Liberation Sans", sans-serif' font-weight="bold" font-size="12.6" textLength="14.83" lengthAdjust="spacingAndGlyphs" fill="#000" stroke="#000" stroke-width="0.5" stroke-linejoin="round" >3h</text>
<text x="547.40" y="330.00" font-family='"Liberation Sans", sans-serif' font-weight="bold" font-size="12.6" textLength="14.83" lengthAdjust="spacingAndGlyphs" fill="#000" stroke="#000" stroke-width="0.5" stroke-linejoin="round" >6h</text>
<text x="587.80" y="330.00" font-family='"Liberation Sans", sans-serif' font-weight="bold" font-size="12.6" textLength="15.53" lengthAdjust="spacingAndGlyphs" fill="#000" stroke="#000" stroke-width="0.5" stroke-linejoin="round" >8h</text>
<text x="626.10" y="330.00" font-family='"Liberation Sans", sans-serif' font-weight="bold" font-size="12.6" textLength="20.58" lengthAdjust="spacingAndGlyphs" fill="#000" stroke="#000" stroke-width="0.5" stroke-linejoin="round" >10h</text>
<text x="668.50" y="330.00" font-family='"Liberation Sans", sans-serif' font-weight="bold" font-size="12.6" textLength="20.68" lengthAdjust="spacingAndGlyphs" fill="#000" stroke="#000" stroke-width="0.5" stroke-linejoin="round" >12h</text>
<text x="708.10" y="330.00" font-family='"Liberation Sans", sans-serif' font-weight="bold" font-size="12.6" textLength="20.58" lengthAdjust="spacingAndGlyphs" fill="#000" stroke="#000" stroke-width="0.5" stroke-linejoin="round" >15h</text>
<text x="469.20" y="348.10" font-family='"Liberation Sans", sans-serif' font-weight="bold" font-size="13.4" textLength="253.49" lengthAdjust="spacingAndGlyphs" fill="#000" stroke="#000" stroke-width="0.5" stroke-linejoin="round" >Released from double thymidine block, hrs</text>
<text x="13.30" y="390.60" font-family='"Liberation Serif", serif' font-weight="bold" font-size="21" textLength="10.97" lengthAdjust="spacingAndGlyphs" fill="#000" stroke="#000" stroke-width="0.35" stroke-linejoin="round" >c</text>
<line x1="60" y1="379.2" x2="60" y2="475.3" stroke="#000" stroke-width="2.2" />
<line x1="59.5" y1="474.8" x2="124.6" y2="474.8" stroke="#000" stroke-width="2.0" />
<line x1="60.0" y1="474.8" x2="60.0" y2="478.8" stroke="#000" stroke-width="1.3" />
<line x1="72.92" y1="474.8" x2="72.92" y2="478.8" stroke="#000" stroke-width="1.3" />
<line x1="85.84" y1="474.8" x2="85.84" y2="478.8" stroke="#000" stroke-width="1.3" />
<line x1="98.75999999999999" y1="474.8" x2="98.75999999999999" y2="478.8" stroke="#000" stroke-width="1.3" />
<line x1="111.67999999999999" y1="474.8" x2="111.67999999999999" y2="478.8" stroke="#000" stroke-width="1.3" />
<line x1="124.6" y1="474.8" x2="124.6" y2="478.8" stroke="#000" stroke-width="1.3" />
<line x1="124.6" y1="472.3" x2="124.6" y2="479.3" stroke="#000" stroke-width="1.6" />
<line x1="58.0" y1="384.2" x2="60" y2="384.2" stroke="#000" stroke-width="0.8" />
<line x1="58.0" y1="388.8" x2="60" y2="388.8" stroke="#000" stroke-width="0.8" />
<line x1="58.0" y1="393.40000000000003" x2="60" y2="393.40000000000003" stroke="#000" stroke-width="0.8" />
<line x1="58.0" y1="398.00000000000006" x2="60" y2="398.00000000000006" stroke="#000" stroke-width="0.8" />
<line x1="58.0" y1="402.6000000000001" x2="60" y2="402.6000000000001" stroke="#000" stroke-width="0.8" />
<line x1="58.0" y1="407.2000000000001" x2="60" y2="407.2000000000001" stroke="#000" stroke-width="0.8" />
<line x1="58.0" y1="411.8000000000001" x2="60" y2="411.8000000000001" stroke="#000" stroke-width="0.8" />
<line x1="58.0" y1="416.40000000000015" x2="60" y2="416.40000000000015" stroke="#000" stroke-width="0.8" />
<line x1="58.0" y1="421.00000000000017" x2="60" y2="421.00000000000017" stroke="#000" stroke-width="0.8" />
<line x1="58.0" y1="425.6000000000002" x2="60" y2="425.6000000000002" stroke="#000" stroke-width="0.8" />
<line x1="58.0" y1="430.2000000000002" x2="60" y2="430.2000000000002" stroke="#000" stroke-width="0.8" />
<line x1="58.0" y1="434.80000000000024" x2="60" y2="434.80000000000024" stroke="#000" stroke-width="0.8" />
<line x1="58.0" y1="439.40000000000026" x2="60" y2="439.40000000000026" stroke="#000" stroke-width="0.8" />
<line x1="58.0" y1="444.0000000000003" x2="60" y2="444.0000000000003" stroke="#000" stroke-width="0.8" />
<line x1="58.0" y1="448.6000000000003" x2="60" y2="448.6000000000003" stroke="#000" stroke-width="0.8" />
<line x1="58.0" y1="453.20000000000033" x2="60" y2="453.20000000000033" stroke="#000" stroke-width="0.8" />
<line x1="58.0" y1="457.80000000000035" x2="60" y2="457.80000000000035" stroke="#000" stroke-width="0.8" />
<line x1="58.0" y1="462.4000000000004" x2="60" y2="462.4000000000004" stroke="#000" stroke-width="0.8" />
<line x1="58.0" y1="467.0000000000004" x2="60" y2="467.0000000000004" stroke="#000" stroke-width="0.8" />
<line x1="58.0" y1="471.6000000000004" x2="60" y2="471.6000000000004" stroke="#000" stroke-width="0.8" />
<line x1="63" y1="474.8" x2="63" y2="476.8" stroke="#000" stroke-width="0.8" />
<line x1="66.6" y1="474.8" x2="66.6" y2="476.8" stroke="#000" stroke-width="0.8" />
<line x1="70.19999999999999" y1="474.8" x2="70.19999999999999" y2="476.8" stroke="#000" stroke-width="0.8" />
<line x1="73.79999999999998" y1="474.8" x2="73.79999999999998" y2="476.8" stroke="#000" stroke-width="0.8" />
<line x1="77.39999999999998" y1="474.8" x2="77.39999999999998" y2="476.8" stroke="#000" stroke-width="0.8" />
<line x1="80.99999999999997" y1="474.8" x2="80.99999999999997" y2="476.8" stroke="#000" stroke-width="0.8" />
<line x1="84.59999999999997" y1="474.8" x2="84.59999999999997" y2="476.8" stroke="#000" stroke-width="0.8" />
<line x1="88.19999999999996" y1="474.8" x2="88.19999999999996" y2="476.8" stroke="#000" stroke-width="0.8" />
<line x1="91.79999999999995" y1="474.8" x2="91.79999999999995" y2="476.8" stroke="#000" stroke-width="0.8" />
<line x1="95.39999999999995" y1="474.8" x2="95.39999999999995" y2="476.8" stroke="#000" stroke-width="0.8" />
<line x1="98.99999999999994" y1="474.8" x2="98.99999999999994" y2="476.8" stroke="#000" stroke-width="0.8" />
<line x1="102.59999999999994" y1="474.8" x2="102.59999999999994" y2="476.8" stroke="#000" stroke-width="0.8" />
<line x1="106.19999999999993" y1="474.8" x2="106.19999999999993" y2="476.8" stroke="#000" stroke-width="0.8" />
<line x1="109.79999999999993" y1="474.8" x2="109.79999999999993" y2="476.8" stroke="#000" stroke-width="0.8" />
<line x1="113.39999999999992" y1="474.8" x2="113.39999999999992" y2="476.8" stroke="#000" stroke-width="0.8" />
<line x1="116.99999999999991" y1="474.8" x2="116.99999999999991" y2="476.8" stroke="#000" stroke-width="0.8" />
<line x1="120.59999999999991" y1="474.8" x2="120.59999999999991" y2="476.8" stroke="#000" stroke-width="0.8" />
<polyline points="60.8,474.5 61.6,379.5 62.6,474.5" fill="none" stroke="#000" stroke-width="2.0" stroke-linejoin="round" />
<polyline points="62.6,474.3 75.0,474.0 81.5,473.5 82.8,470.0 84.3,462.0 85.6,452.0 86.1,420.0 86.5,383.3 86.9,420.0 87.4,452.0 88.6,462.0 89.9,471.0 96.0,472.2 104.4,471.8 106.5,468.5 108.7,467.2 111.0,468.5 113.9,473.5 124.6,474.5" fill="none" stroke="#000" stroke-width="1.9" stroke-linejoin="round" />
<polyline points="83.5,474.0 85.0,462.0 86.3,452.0 87.6,462.0 89.5,474.0" fill="none" stroke="#000" stroke-width="1.3" stroke-linejoin="round" />
<line x1="190.9" y1="380.4" x2="190.9" y2="475.9" stroke="#000" stroke-width="2.2" />
<line x1="190.4" y1="475.4" x2="252.6" y2="475.4" stroke="#000" stroke-width="2.0" />
<line x1="190.9" y1="475.4" x2="190.9" y2="479.4" stroke="#000" stroke-width="1.3" />
<line x1="203.24" y1="475.4" x2="203.24" y2="479.4" stroke="#000" stroke-width="1.3" />
<line x1="215.58" y1="475.4" x2="215.58" y2="479.4" stroke="#000" stroke-width="1.3" />
<line x1="227.92000000000002" y1="475.4" x2="227.92000000000002" y2="479.4" stroke="#000" stroke-width="1.3" />
<line x1="240.26" y1="475.4" x2="240.26" y2="479.4" stroke="#000" stroke-width="1.3" />
<line x1="252.6" y1="475.4" x2="252.6" y2="479.4" stroke="#000" stroke-width="1.3" />
<line x1="252.6" y1="472.9" x2="252.6" y2="479.9" stroke="#000" stroke-width="1.6" />
<line x1="188.9" y1="385.4" x2="190.9" y2="385.4" stroke="#000" stroke-width="0.8" />
<line x1="188.9" y1="390.0" x2="190.9" y2="390.0" stroke="#000" stroke-width="0.8" />
<line x1="188.9" y1="394.6" x2="190.9" y2="394.6" stroke="#000" stroke-width="0.8" />
<line x1="188.9" y1="399.20000000000005" x2="190.9" y2="399.20000000000005" stroke="#000" stroke-width="0.8" />
<line x1="188.9" y1="403.80000000000007" x2="190.9" y2="403.80000000000007" stroke="#000" stroke-width="0.8" />
<line x1="188.9" y1="408.4000000000001" x2="190.9" y2="408.4000000000001" stroke="#000" stroke-width="0.8" />
<line x1="188.9" y1="413.0000000000001" x2="190.9" y2="413.0000000000001" stroke="#000" stroke-width="0.8" />
<line x1="188.9" y1="417.60000000000014" x2="190.9" y2="417.60000000000014" stroke="#000" stroke-width="0.8" />
<line x1="188.9" y1="422.20000000000016" x2="190.9" y2="422.20000000000016" stroke="#000" stroke-width="0.8" />
<line x1="188.9" y1="426.8000000000002" x2="190.9" y2="426.8000000000002" stroke="#000" stroke-width="0.8" />
<line x1="188.9" y1="431.4000000000002" x2="190.9" y2="431.4000000000002" stroke="#000" stroke-width="0.8" />
<line x1="188.9" y1="436.0000000000002" x2="190.9" y2="436.0000000000002" stroke="#000" stroke-width="0.8" />
<line x1="188.9" y1="440.60000000000025" x2="190.9" y2="440.60000000000025" stroke="#000" stroke-width="0.8" />
<line x1="188.9" y1="445.2000000000003" x2="190.9" y2="445.2000000000003" stroke="#000" stroke-width="0.8" />
<line x1="188.9" y1="449.8000000000003" x2="190.9" y2="449.8000000000003" stroke="#000" stroke-width="0.8" />
<line x1="188.9" y1="454.4000000000003" x2="190.9" y2="454.4000000000003" stroke="#000" stroke-width="0.8" />
<line x1="188.9" y1="459.00000000000034" x2="190.9" y2="459.00000000000034" stroke="#000" stroke-width="0.8" />
<line x1="188.9" y1="463.60000000000036" x2="190.9" y2="463.60000000000036" stroke="#000" stroke-width="0.8" />
<line x1="188.9" y1="468.2000000000004" x2="190.9" y2="468.2000000000004" stroke="#000" stroke-width="0.8" />
<line x1="188.9" y1="472.8000000000004" x2="190.9" y2="472.8000000000004" stroke="#000" stroke-width="0.8" />
<line x1="193.9" y1="475.4" x2="193.9" y2="477.4" stroke="#000" stroke-width="0.8" />
<line x1="197.5" y1="475.4" x2="197.5" y2="477.4" stroke="#000" stroke-width="0.8" />
<line x1="201.1" y1="475.4" x2="201.1" y2="477.4" stroke="#000" stroke-width="0.8" />
<line x1="204.7" y1="475.4" x2="204.7" y2="477.4" stroke="#000" stroke-width="0.8" />
<line x1="208.29999999999998" y1="475.4" x2="208.29999999999998" y2="477.4" stroke="#000" stroke-width="0.8" />
<line x1="211.89999999999998" y1="475.4" x2="211.89999999999998" y2="477.4" stroke="#000" stroke-width="0.8" />
<line x1="215.49999999999997" y1="475.4" x2="215.49999999999997" y2="477.4" stroke="#000" stroke-width="0.8" />
<line x1="219.09999999999997" y1="475.4" x2="219.09999999999997" y2="477.4" stroke="#000" stroke-width="0.8" />
<line x1="222.69999999999996" y1="475.4" x2="222.69999999999996" y2="477.4" stroke="#000" stroke-width="0.8" />
<line x1="226.29999999999995" y1="475.4" x2="226.29999999999995" y2="477.4" stroke="#000" stroke-width="0.8" />
<line x1="229.89999999999995" y1="475.4" x2="229.89999999999995" y2="477.4" stroke="#000" stroke-width="0.8" />
<line x1="233.49999999999994" y1="475.4" x2="233.49999999999994" y2="477.4" stroke="#000" stroke-width="0.8" />
<line x1="237.09999999999994" y1="475.4" x2="237.09999999999994" y2="477.4" stroke="#000" stroke-width="0.8" />
<line x1="240.69999999999993" y1="475.4" x2="240.69999999999993" y2="477.4" stroke="#000" stroke-width="0.8" />
<line x1="244.29999999999993" y1="475.4" x2="244.29999999999993" y2="477.4" stroke="#000" stroke-width="0.8" />
<line x1="247.89999999999992" y1="475.4" x2="247.89999999999992" y2="477.4" stroke="#000" stroke-width="0.8" />
<line x1="251.49999999999991" y1="475.4" x2="251.49999999999991" y2="477.4" stroke="#000" stroke-width="0.8" />
<polyline points="190.9,475.0 200.0,474.5 208.0,474.5 210.5,473.0 212.0,468.0 213.5,455.0 214.5,440.0 215.5,420.0 216.5,400.0 217.3,388.5 218.3,392.0 219.0,410.0 220.0,430.0 221.2,445.0 222.5,455.0 224.0,465.0 226.0,472.0 229.0,474.0 240.0,474.0 252.6,475.0" fill="none" stroke="#000" stroke-width="1.9" stroke-linejoin="round" />
<polyline points="213.0,474.0 214.5,460.0 216.0,440.0 217.5,420.0 219.3,404.0 220.0,415.0 221.0,435.0 222.5,455.0 225.0,472.0" fill="none" stroke="#000" stroke-width="1.3" stroke-linejoin="round" />
<line x1="316.1" y1="378.2" x2="316.1" y2="475.7" stroke="#000" stroke-width="2.2" />
<line x1="315.6" y1="475.2" x2="383.7" y2="475.2" stroke="#000" stroke-width="2.0" />
<line x1="316.1" y1="475.2" x2="316.1" y2="479.2" stroke="#000" stroke-width="1.3" />
<line x1="329.62" y1="475.2" x2="329.62" y2="479.2" stroke="#000" stroke-width="1.3" />
<line x1="343.14" y1="475.2" x2="343.14" y2="479.2" stroke="#000" stroke-width="1.3" />
<line x1="356.66" y1="475.2" x2="356.66" y2="479.2" stroke="#000" stroke-width="1.3" />
<line x1="370.18" y1="475.2" x2="370.18" y2="479.2" stroke="#000" stroke-width="1.3" />
<line x1="383.7" y1="475.2" x2="383.7" y2="479.2" stroke="#000" stroke-width="1.3" />
<line x1="383.7" y1="472.7" x2="383.7" y2="479.7" stroke="#000" stroke-width="1.6" />
<line x1="314.1" y1="383.2" x2="316.1" y2="383.2" stroke="#000" stroke-width="0.8" />
<line x1="314.1" y1="387.8" x2="316.1" y2="387.8" stroke="#000" stroke-width="0.8" />
<line x1="314.1" y1="392.40000000000003" x2="316.1" y2="392.40000000000003" stroke="#000" stroke-width="0.8" />
<line x1="314.1" y1="397.00000000000006" x2="316.1" y2="397.00000000000006" stroke="#000" stroke-width="0.8" />
<line x1="314.1" y1="401.6000000000001" x2="316.1" y2="401.6000000000001" stroke="#000" stroke-width="0.8" />
<line x1="314.1" y1="406.2000000000001" x2="316.1" y2="406.2000000000001" stroke="#000" stroke-width="0.8" />
<line x1="314.1" y1="410.8000000000001" x2="316.1" y2="410.8000000000001" stroke="#000" stroke-width="0.8" />
<line x1="314.1" y1="415.40000000000015" x2="316.1" y2="415.40000000000015" stroke="#000" stroke-width="0.8" />
<line x1="314.1" y1="420.00000000000017" x2="316.1" y2="420.00000000000017" stroke="#000" stroke-width="0.8" />
<line x1="314.1" y1="424.6000000000002" x2="316.1" y2="424.6000000000002" stroke="#000" stroke-width="0.8" />
<line x1="314.1" y1="429.2000000000002" x2="316.1" y2="429.2000000000002" stroke="#000" stroke-width="0.8" />
<line x1="314.1" y1="433.80000000000024" x2="316.1" y2="433.80000000000024" stroke="#000" stroke-width="0.8" />
<line x1="314.1" y1="438.40000000000026" x2="316.1" y2="438.40000000000026" stroke="#000" stroke-width="0.8" />
<line x1="314.1" y1="443.0000000000003" x2="316.1" y2="443.0000000000003" stroke="#000" stroke-width="0.8" />
<line x1="314.1" y1="447.6000000000003" x2="316.1" y2="447.6000000000003" stroke="#000" stroke-width="0.8" />
<line x1="314.1" y1="452.20000000000033" x2="316.1" y2="452.20000000000033" stroke="#000" stroke-width="0.8" />
<line x1="314.1" y1="456.80000000000035" x2="316.1" y2="456.80000000000035" stroke="#000" stroke-width="0.8" />
<line x1="314.1" y1="461.4000000000004" x2="316.1" y2="461.4000000000004" stroke="#000" stroke-width="0.8" />
<line x1="314.1" y1="466.0000000000004" x2="316.1" y2="466.0000000000004" stroke="#000" stroke-width="0.8" />
<line x1="314.1" y1="470.6000000000004" x2="316.1" y2="470.6000000000004" stroke="#000" stroke-width="0.8" />
<line x1="319.1" y1="475.2" x2="319.1" y2="477.2" stroke="#000" stroke-width="0.8" />
<line x1="322.70000000000005" y1="475.2" x2="322.70000000000005" y2="477.2" stroke="#000" stroke-width="0.8" />
<line x1="326.30000000000007" y1="475.2" x2="326.30000000000007" y2="477.2" stroke="#000" stroke-width="0.8" />
<line x1="329.9000000000001" y1="475.2" x2="329.9000000000001" y2="477.2" stroke="#000" stroke-width="0.8" />
<line x1="333.5000000000001" y1="475.2" x2="333.5000000000001" y2="477.2" stroke="#000" stroke-width="0.8" />
<line x1="337.10000000000014" y1="475.2" x2="337.10000000000014" y2="477.2" stroke="#000" stroke-width="0.8" />
<line x1="340.70000000000016" y1="475.2" x2="340.70000000000016" y2="477.2" stroke="#000" stroke-width="0.8" />
<line x1="344.3000000000002" y1="475.2" x2="344.3000000000002" y2="477.2" stroke="#000" stroke-width="0.8" />
<line x1="347.9000000000002" y1="475.2" x2="347.9000000000002" y2="477.2" stroke="#000" stroke-width="0.8" />
<line x1="351.5000000000002" y1="475.2" x2="351.5000000000002" y2="477.2" stroke="#000" stroke-width="0.8" />
<line x1="355.10000000000025" y1="475.2" x2="355.10000000000025" y2="477.2" stroke="#000" stroke-width="0.8" />
<line x1="358.7000000000003" y1="475.2" x2="358.7000000000003" y2="477.2" stroke="#000" stroke-width="0.8" />
<line x1="362.3000000000003" y1="475.2" x2="362.3000000000003" y2="477.2" stroke="#000" stroke-width="0.8" />
<line x1="365.9000000000003" y1="475.2" x2="365.9000000000003" y2="477.2" stroke="#000" stroke-width="0.8" />
<line x1="369.50000000000034" y1="475.2" x2="369.50000000000034" y2="477.2" stroke="#000" stroke-width="0.8" />
<line x1="373.10000000000036" y1="475.2" x2="373.10000000000036" y2="477.2" stroke="#000" stroke-width="0.8" />
<line x1="376.7000000000004" y1="475.2" x2="376.7000000000004" y2="477.2" stroke="#000" stroke-width="0.8" />
<line x1="380.3000000000004" y1="475.2" x2="380.3000000000004" y2="477.2" stroke="#000" stroke-width="0.8" />
<polyline points="316.0,474.8 336.0,474.6 339.0,472.0 343.3,452.6 347.0,429.0 348.6,402.0 350.8,391.2 352.4,395.0 354.0,407.3 356.2,429.0 358.3,452.6 361.6,467.7 365.9,473.1 372.3,474.3 383.7,474.8" fill="none" stroke="#000" stroke-width="2.1" stroke-linejoin="round" />
<polyline points="337.5,474.5 341.0,461.0 344.5,441.0 347.5,420.0 349.6,400.0 351.6,394.0 353.6,406.0 355.6,427.0 357.6,449.0 360.2,463.0 364.5,472.5" fill="none" stroke="#000" stroke-width="1.3" stroke-linejoin="round" />
<line x1="460.4" y1="384.3" x2="460.4" y2="475.7" stroke="#000" stroke-width="2.2" />
<line x1="459.9" y1="475.2" x2="526.1" y2="475.2" stroke="#000" stroke-width="2.0" />
<line x1="460.4" y1="475.2" x2="460.4" y2="479.2" stroke="#000" stroke-width="1.3" />
<line x1="473.53999999999996" y1="475.2" x2="473.53999999999996" y2="479.2" stroke="#000" stroke-width="1.3" />
<line x1="486.68" y1="475.2" x2="486.68" y2="479.2" stroke="#000" stroke-width="1.3" />
<line x1="499.82" y1="475.2" x2="499.82" y2="479.2" stroke="#000" stroke-width="1.3" />
<line x1="512.96" y1="475.2" x2="512.96" y2="479.2" stroke="#000" stroke-width="1.3" />
<line x1="526.1" y1="475.2" x2="526.1" y2="479.2" stroke="#000" stroke-width="1.3" />
<line x1="526.1" y1="472.7" x2="526.1" y2="479.7" stroke="#000" stroke-width="1.6" />
<line x1="458.4" y1="389.3" x2="460.4" y2="389.3" stroke="#000" stroke-width="0.8" />
<line x1="458.4" y1="393.90000000000003" x2="460.4" y2="393.90000000000003" stroke="#000" stroke-width="0.8" />
<line x1="458.4" y1="398.50000000000006" x2="460.4" y2="398.50000000000006" stroke="#000" stroke-width="0.8" />
<line x1="458.4" y1="403.1000000000001" x2="460.4" y2="403.1000000000001" stroke="#000" stroke-width="0.8" />
<line x1="458.4" y1="407.7000000000001" x2="460.4" y2="407.7000000000001" stroke="#000" stroke-width="0.8" />
<line x1="458.4" y1="412.3000000000001" x2="460.4" y2="412.3000000000001" stroke="#000" stroke-width="0.8" />
<line x1="458.4" y1="416.90000000000015" x2="460.4" y2="416.90000000000015" stroke="#000" stroke-width="0.8" />
<line x1="458.4" y1="421.50000000000017" x2="460.4" y2="421.50000000000017" stroke="#000" stroke-width="0.8" />
<line x1="458.4" y1="426.1000000000002" x2="460.4" y2="426.1000000000002" stroke="#000" stroke-width="0.8" />
<line x1="458.4" y1="430.7000000000002" x2="460.4" y2="430.7000000000002" stroke="#000" stroke-width="0.8" />
<line x1="458.4" y1="435.30000000000024" x2="460.4" y2="435.30000000000024" stroke="#000" stroke-width="0.8" />
<line x1="458.4" y1="439.90000000000026" x2="460.4" y2="439.90000000000026" stroke="#000" stroke-width="0.8" />
<line x1="458.4" y1="444.5000000000003" x2="460.4" y2="444.5000000000003" stroke="#000" stroke-width="0.8" />
<line x1="458.4" y1="449.1000000000003" x2="460.4" y2="449.1000000000003" stroke="#000" stroke-width="0.8" />
<line x1="458.4" y1="453.70000000000033" x2="460.4" y2="453.70000000000033" stroke="#000" stroke-width="0.8" />
<line x1="458.4" y1="458.30000000000035" x2="460.4" y2="458.30000000000035" stroke="#000" stroke-width="0.8" />
<line x1="458.4" y1="462.9000000000004" x2="460.4" y2="462.9000000000004" stroke="#000" stroke-width="0.8" />
<line x1="458.4" y1="467.5000000000004" x2="460.4" y2="467.5000000000004" stroke="#000" stroke-width="0.8" />
<line x1="458.4" y1="472.1000000000004" x2="460.4" y2="472.1000000000004" stroke="#000" stroke-width="0.8" />
<line x1="463.4" y1="475.2" x2="463.4" y2="477.2" stroke="#000" stroke-width="0.8" />
<line x1="467.0" y1="475.2" x2="467.0" y2="477.2" stroke="#000" stroke-width="0.8" />
<line x1="470.6" y1="475.2" x2="470.6" y2="477.2" stroke="#000" stroke-width="0.8" />
<line x1="474.20000000000005" y1="475.2" x2="474.20000000000005" y2="477.2" stroke="#000" stroke-width="0.8" />
<line x1="477.80000000000007" y1="475.2" x2="477.80000000000007" y2="477.2" stroke="#000" stroke-width="0.8" />
<line x1="481.4000000000001" y1="475.2" x2="481.4000000000001" y2="477.2" stroke="#000" stroke-width="0.8" />
<line x1="485.0000000000001" y1="475.2" x2="485.0000000000001" y2="477.2" stroke="#000" stroke-width="0.8" />
<line x1="488.60000000000014" y1="475.2" x2="488.60000000000014" y2="477.2" stroke="#000" stroke-width="0.8" />
<line x1="492.20000000000016" y1="475.2" x2="492.20000000000016" y2="477.2" stroke="#000" stroke-width="0.8" />
<line x1="495.8000000000002" y1="475.2" x2="495.8000000000002" y2="477.2" stroke="#000" stroke-width="0.8" />
<line x1="499.4000000000002" y1="475.2" x2="499.4000000000002" y2="477.2" stroke="#000" stroke-width="0.8" />
<line x1="503.0000000000002" y1="475.2" x2="503.0000000000002" y2="477.2" stroke="#000" stroke-width="0.8" />
<line x1="506.60000000000025" y1="475.2" x2="506.60000000000025" y2="477.2" stroke="#000" stroke-width="0.8" />
<line x1="510.2000000000003" y1="475.2" x2="510.2000000000003" y2="477.2" stroke="#000" stroke-width="0.8" />
<line x1="513.8000000000003" y1="475.2" x2="513.8000000000003" y2="477.2" stroke="#000" stroke-width="0.8" />
<line x1="517.4000000000003" y1="475.2" x2="517.4000000000003" y2="477.2" stroke="#000" stroke-width="0.8" />
<line x1="521.0000000000003" y1="475.2" x2="521.0000000000003" y2="477.2" stroke="#000" stroke-width="0.8" />
<line x1="524.6000000000004" y1="475.2" x2="524.6000000000004" y2="477.2" stroke="#000" stroke-width="0.8" />
<polyline points="460.4,474.8 475.0,474.5 482.0,474.0 483.2,472.0 484.5,462.0 485.7,456.5 486.6,462.0 487.3,468.4 490.0,469.5 494.0,469.0 497.6,466.2 500.3,433.9 502.4,401.6 504.4,387.0 505.6,396.2 507.8,423.1 510.0,450.0 512.1,471.6 513.7,474.6 526.1,474.8" fill="none" stroke="#000" stroke-width="1.9" stroke-linejoin="round" />
<polyline points="486.0,474.5 489.0,471.0 493.0,470.5 498.0,469.0 503.0,470.0 507.0,472.0 510.0,474.5" fill="none" stroke="#000" stroke-width="1.3" stroke-linejoin="round" />
<line x1="60.4" y1="504.8" x2="60.4" y2="598.0" stroke="#000" stroke-width="2.2" />
<line x1="59.9" y1="597.5" x2="123.4" y2="597.5" stroke="#000" stroke-width="2.0" />
<line x1="60.4" y1="597.5" x2="60.4" y2="601.5" stroke="#000" stroke-width="1.3" />
<line x1="73.0" y1="597.5" x2="73.0" y2="601.5" stroke="#000" stroke-width="1.3" />
<line x1="85.6" y1="597.5" x2="85.6" y2="601.5" stroke="#000" stroke-width="1.3" />
<line x1="98.2" y1="597.5" x2="98.2" y2="601.5" stroke="#000" stroke-width="1.3" />
<line x1="110.80000000000001" y1="597.5" x2="110.80000000000001" y2="601.5" stroke="#000" stroke-width="1.3" />
<line x1="123.4" y1="597.5" x2="123.4" y2="601.5" stroke="#000" stroke-width="1.3" />
<line x1="123.4" y1="595.0" x2="123.4" y2="602.0" stroke="#000" stroke-width="1.6" />
<line x1="58.4" y1="509.8" x2="60.4" y2="509.8" stroke="#000" stroke-width="0.8" />
<line x1="58.4" y1="514.4" x2="60.4" y2="514.4" stroke="#000" stroke-width="0.8" />
<line x1="58.4" y1="519.0" x2="60.4" y2="519.0" stroke="#000" stroke-width="0.8" />
<line x1="58.4" y1="523.6" x2="60.4" y2="523.6" stroke="#000" stroke-width="0.8" />
<line x1="58.4" y1="528.2" x2="60.4" y2="528.2" stroke="#000" stroke-width="0.8" />
<line x1="58.4" y1="532.8000000000001" x2="60.4" y2="532.8000000000001" stroke="#000" stroke-width="0.8" />
<line x1="58.4" y1="537.4000000000001" x2="60.4" y2="537.4000000000001" stroke="#000" stroke-width="0.8" />
<line x1="58.4" y1="542.0000000000001" x2="60.4" y2="542.0000000000001" stroke="#000" stroke-width="0.8" />
<line x1="58.4" y1="546.6000000000001" x2="60.4" y2="546.6000000000001" stroke="#000" stroke-width="0.8" />
<line x1="58.4" y1="551.2000000000002" x2="60.4" y2="551.2000000000002" stroke="#000" stroke-width="0.8" />
<line x1="58.4" y1="555.8000000000002" x2="60.4" y2="555.8000000000002" stroke="#000" stroke-width="0.8" />
<line x1="58.4" y1="560.4000000000002" x2="60.4" y2="560.4000000000002" stroke="#000" stroke-width="0.8" />
<line x1="58.4" y1="565.0000000000002" x2="60.4" y2="565.0000000000002" stroke="#000" stroke-width="0.8" />
<line x1="58.4" y1="569.6000000000003" x2="60.4" y2="569.6000000000003" stroke="#000" stroke-width="0.8" />
<line x1="58.4" y1="574.2000000000003" x2="60.4" y2="574.2000000000003" stroke="#000" stroke-width="0.8" />
<line x1="58.4" y1="578.8000000000003" x2="60.4" y2="578.8000000000003" stroke="#000" stroke-width="0.8" />
<line x1="58.4" y1="583.4000000000003" x2="60.4" y2="583.4000000000003" stroke="#000" stroke-width="0.8" />
<line x1="58.4" y1="588.0000000000003" x2="60.4" y2="588.0000000000003" stroke="#000" stroke-width="0.8" />
<line x1="58.4" y1="592.6000000000004" x2="60.4" y2="592.6000000000004" stroke="#000" stroke-width="0.8" />
<line x1="63.4" y1="597.5" x2="63.4" y2="599.5" stroke="#000" stroke-width="0.8" />
<line x1="67.0" y1="597.5" x2="67.0" y2="599.5" stroke="#000" stroke-width="0.8" />
<line x1="70.6" y1="597.5" x2="70.6" y2="599.5" stroke="#000" stroke-width="0.8" />
<line x1="74.19999999999999" y1="597.5" x2="74.19999999999999" y2="599.5" stroke="#000" stroke-width="0.8" />
<line x1="77.79999999999998" y1="597.5" x2="77.79999999999998" y2="599.5" stroke="#000" stroke-width="0.8" />
<line x1="81.39999999999998" y1="597.5" x2="81.39999999999998" y2="599.5" stroke="#000" stroke-width="0.8" />
<line x1="84.99999999999997" y1="597.5" x2="84.99999999999997" y2="599.5" stroke="#000" stroke-width="0.8" />
<line x1="88.59999999999997" y1="597.5" x2="88.59999999999997" y2="599.5" stroke="#000" stroke-width="0.8" />
<line x1="92.19999999999996" y1="597.5" x2="92.19999999999996" y2="599.5" stroke="#000" stroke-width="0.8" />
<line x1="95.79999999999995" y1="597.5" x2="95.79999999999995" y2="599.5" stroke="#000" stroke-width="0.8" />
<line x1="99.39999999999995" y1="597.5" x2="99.39999999999995" y2="599.5" stroke="#000" stroke-width="0.8" />
<line x1="102.99999999999994" y1="597.5" x2="102.99999999999994" y2="599.5" stroke="#000" stroke-width="0.8" />
<line x1="106.59999999999994" y1="597.5" x2="106.59999999999994" y2="599.5" stroke="#000" stroke-width="0.8" />
<line x1="110.19999999999993" y1="597.5" x2="110.19999999999993" y2="599.5" stroke="#000" stroke-width="0.8" />
<line x1="113.79999999999993" y1="597.5" x2="113.79999999999993" y2="599.5" stroke="#000" stroke-width="0.8" />
<line x1="117.39999999999992" y1="597.5" x2="117.39999999999992" y2="599.5" stroke="#000" stroke-width="0.8" />
<line x1="120.99999999999991" y1="597.5" x2="120.99999999999991" y2="599.5" stroke="#000" stroke-width="0.8" />
<polyline points="60.4,597.0 66.3,596.8 67.4,592.7 68.5,596.8 81.5,596.8 82.5,595.9 83.6,586.2 85.7,566.3 87.3,584.0 89.3,595.9 96.0,596.5 100.3,594.8 103.5,591.6 105.6,575.4 107.3,553.9 108.3,532.3 110.0,516.7 111.6,530.0 113.2,543.1 114.3,570.0 115.9,591.6 117.5,596.5 123.4,597.0" fill="none" stroke="#000" stroke-width="1.9" stroke-linejoin="round" />
<polyline points="104.5,596.5 106.5,578.0 108.5,550.0 109.8,528.0 111.2,545.0 112.8,575.0 115.0,596.0" fill="none" stroke="#000" stroke-width="1.3" stroke-linejoin="round" />
<line x1="191.8" y1="504.3" x2="191.8" y2="597.8" stroke="#000" stroke-width="2.2" />
<line x1="191.3" y1="597.3" x2="258.7" y2="597.3" stroke="#000" stroke-width="2.0" />
<line x1="191.8" y1="597.3" x2="191.8" y2="601.3" stroke="#000" stroke-width="1.3" />
<line x1="205.18" y1="597.3" x2="205.18" y2="601.3" stroke="#000" stroke-width="1.3" />
<line x1="218.56" y1="597.3" x2="218.56" y2="601.3" stroke="#000" stroke-width="1.3" />
<line x1="231.94" y1="597.3" x2="231.94" y2="601.3" stroke="#000" stroke-width="1.3" />
<line x1="245.32" y1="597.3" x2="245.32" y2="601.3" stroke="#000" stroke-width="1.3" />
<line x1="258.7" y1="597.3" x2="258.7" y2="601.3" stroke="#000" stroke-width="1.3" />
<line x1="258.7" y1="594.8" x2="258.7" y2="601.8" stroke="#000" stroke-width="1.6" />
<line x1="189.8" y1="509.3" x2="191.8" y2="509.3" stroke="#000" stroke-width="0.8" />
<line x1="189.8" y1="513.9" x2="191.8" y2="513.9" stroke="#000" stroke-width="0.8" />
<line x1="189.8" y1="518.5" x2="191.8" y2="518.5" stroke="#000" stroke-width="0.8" />
<line x1="189.8" y1="523.1" x2="191.8" y2="523.1" stroke="#000" stroke-width="0.8" />
<line x1="189.8" y1="527.7" x2="191.8" y2="527.7" stroke="#000" stroke-width="0.8" />
<line x1="189.8" y1="532.3000000000001" x2="191.8" y2="532.3000000000001" stroke="#000" stroke-width="0.8" />
<line x1="189.8" y1="536.9000000000001" x2="191.8" y2="536.9000000000001" stroke="#000" stroke-width="0.8" />
<line x1="189.8" y1="541.5000000000001" x2="191.8" y2="541.5000000000001" stroke="#000" stroke-width="0.8" />
<line x1="189.8" y1="546.1000000000001" x2="191.8" y2="546.1000000000001" stroke="#000" stroke-width="0.8" />
<line x1="189.8" y1="550.7000000000002" x2="191.8" y2="550.7000000000002" stroke="#000" stroke-width="0.8" />
<line x1="189.8" y1="555.3000000000002" x2="191.8" y2="555.3000000000002" stroke="#000" stroke-width="0.8" />
<line x1="189.8" y1="559.9000000000002" x2="191.8" y2="559.9000000000002" stroke="#000" stroke-width="0.8" />
<line x1="189.8" y1="564.5000000000002" x2="191.8" y2="564.5000000000002" stroke="#000" stroke-width="0.8" />
<line x1="189.8" y1="569.1000000000003" x2="191.8" y2="569.1000000000003" stroke="#000" stroke-width="0.8" />
<line x1="189.8" y1="573.7000000000003" x2="191.8" y2="573.7000000000003" stroke="#000" stroke-width="0.8" />
<line x1="189.8" y1="578.3000000000003" x2="191.8" y2="578.3000000000003" stroke="#000" stroke-width="0.8" />
<line x1="189.8" y1="582.9000000000003" x2="191.8" y2="582.9000000000003" stroke="#000" stroke-width="0.8" />
<line x1="189.8" y1="587.5000000000003" x2="191.8" y2="587.5000000000003" stroke="#000" stroke-width="0.8" />
<line x1="189.8" y1="592.1000000000004" x2="191.8" y2="592.1000000000004" stroke="#000" stroke-width="0.8" />
<line x1="194.8" y1="597.3" x2="194.8" y2="599.3" stroke="#000" stroke-width="0.8" />
<line x1="198.4" y1="597.3" x2="198.4" y2="599.3" stroke="#000" stroke-width="0.8" />
<line x1="202.0" y1="597.3" x2="202.0" y2="599.3" stroke="#000" stroke-width="0.8" />
<line x1="205.6" y1="597.3" x2="205.6" y2="599.3" stroke="#000" stroke-width="0.8" />
<line x1="209.2" y1="597.3" x2="209.2" y2="599.3" stroke="#000" stroke-width="0.8" />
<line x1="212.79999999999998" y1="597.3" x2="212.79999999999998" y2="599.3" stroke="#000" stroke-width="0.8" />
<line x1="216.39999999999998" y1="597.3" x2="216.39999999999998" y2="599.3" stroke="#000" stroke-width="0.8" />
<line x1="219.99999999999997" y1="597.3" x2="219.99999999999997" y2="599.3" stroke="#000" stroke-width="0.8" />
<line x1="223.59999999999997" y1="597.3" x2="223.59999999999997" y2="599.3" stroke="#000" stroke-width="0.8" />
<line x1="227.19999999999996" y1="597.3" x2="227.19999999999996" y2="599.3" stroke="#000" stroke-width="0.8" />
<line x1="230.79999999999995" y1="597.3" x2="230.79999999999995" y2="599.3" stroke="#000" stroke-width="0.8" />
<line x1="234.39999999999995" y1="597.3" x2="234.39999999999995" y2="599.3" stroke="#000" stroke-width="0.8" />
<line x1="237.99999999999994" y1="597.3" x2="237.99999999999994" y2="599.3" stroke="#000" stroke-width="0.8" />
<line x1="241.59999999999994" y1="597.3" x2="241.59999999999994" y2="599.3" stroke="#000" stroke-width="0.8" />
<line x1="245.19999999999993" y1="597.3" x2="245.19999999999993" y2="599.3" stroke="#000" stroke-width="0.8" />
<line x1="248.79999999999993" y1="597.3" x2="248.79999999999993" y2="599.3" stroke="#000" stroke-width="0.8" />
<line x1="252.39999999999992" y1="597.3" x2="252.39999999999992" y2="599.3" stroke="#000" stroke-width="0.8" />
<line x1="255.99999999999991" y1="597.3" x2="255.99999999999991" y2="599.3" stroke="#000" stroke-width="0.8" />
<polyline points="191.8,597.0 205.0,596.8 213.2,596.5 213.9,594.8 214.8,586.2 216.1,553.9 217.7,516.2 218.8,548.5 219.9,580.8 221.0,594.8 222.0,596.5 235.0,596.7 237.1,596.5 239.5,591.0 242.0,586.2 244.2,591.0 246.3,596.5 258.7,597.0" fill="none" stroke="#000" stroke-width="1.9" stroke-linejoin="round" />
<polyline points="215.0,596.5 216.3,575.0 217.8,551.7 219.2,575.0 220.3,596.5" fill="none" stroke="#000" stroke-width="1.3" stroke-linejoin="round" />
<line x1="316.6" y1="505.7" x2="316.6" y2="599.6" stroke="#000" stroke-width="2.2" />
<line x1="316.1" y1="599.1" x2="392.8" y2="599.1" stroke="#000" stroke-width="2.0" />
<line x1="316.6" y1="599.1" x2="316.6" y2="603.1" stroke="#000" stroke-width="1.3" />
<line x1="331.84000000000003" y1="599.1" x2="331.84000000000003" y2="603.1" stroke="#000" stroke-width="1.3" />
<line x1="347.08000000000004" y1="599.1" x2="347.08000000000004" y2="603.1" stroke="#000" stroke-width="1.3" />
<line x1="362.32" y1="599.1" x2="362.32" y2="603.1" stroke="#000" stroke-width="1.3" />
<line x1="377.56" y1="599.1" x2="377.56" y2="603.1" stroke="#000" stroke-width="1.3" />
<line x1="392.8" y1="599.1" x2="392.8" y2="603.1" stroke="#000" stroke-width="1.3" />
<line x1="392.8" y1="596.6" x2="392.8" y2="603.6" stroke="#000" stroke-width="1.6" />
<line x1="314.6" y1="510.7" x2="316.6" y2="510.7" stroke="#000" stroke-width="0.8" />
<line x1="314.6" y1="515.3" x2="316.6" y2="515.3" stroke="#000" stroke-width="0.8" />
<line x1="314.6" y1="519.9" x2="316.6" y2="519.9" stroke="#000" stroke-width="0.8" />
<line x1="314.6" y1="524.5" x2="316.6" y2="524.5" stroke="#000" stroke-width="0.8" />
<line x1="314.6" y1="529.1" x2="316.6" y2="529.1" stroke="#000" stroke-width="0.8" />
<line x1="314.6" y1="533.7" x2="316.6" y2="533.7" stroke="#000" stroke-width="0.8" />
<line x1="314.6" y1="538.3000000000001" x2="316.6" y2="538.3000000000001" stroke="#000" stroke-width="0.8" />
<line x1="314.6" y1="542.9000000000001" x2="316.6" y2="542.9000000000001" stroke="#000" stroke-width="0.8" />
<line x1="314.6" y1="547.5000000000001" x2="316.6" y2="547.5000000000001" stroke="#000" stroke-width="0.8" />
<line x1="314.6" y1="552.1000000000001" x2="316.6" y2="552.1000000000001" stroke="#000" stroke-width="0.8" />
<line x1="314.6" y1="556.7000000000002" x2="316.6" y2="556.7000000000002" stroke="#000" stroke-width="0.8" />
<line x1="314.6" y1="561.3000000000002" x2="316.6" y2="561.3000000000002" stroke="#000" stroke-width="0.8" />
<line x1="314.6" y1="565.9000000000002" x2="316.6" y2="565.9000000000002" stroke="#000" stroke-width="0.8" />
<line x1="314.6" y1="570.5000000000002" x2="316.6" y2="570.5000000000002" stroke="#000" stroke-width="0.8" />
<line x1="314.6" y1="575.1000000000003" x2="316.6" y2="575.1000000000003" stroke="#000" stroke-width="0.8" />
<line x1="314.6" y1="579.7000000000003" x2="316.6" y2="579.7000000000003" stroke="#000" stroke-width="0.8" />
<line x1="314.6" y1="584.3000000000003" x2="316.6" y2="584.3000000000003" stroke="#000" stroke-width="0.8" />
<line x1="314.6" y1="588.9000000000003" x2="316.6" y2="588.9000000000003" stroke="#000" stroke-width="0.8" />
<line x1="314.6" y1="593.5000000000003" x2="316.6" y2="593.5000000000003" stroke="#000" stroke-width="0.8" />
<line x1="319.6" y1="599.1" x2="319.6" y2="601.1" stroke="#000" stroke-width="0.8" />
<line x1="323.20000000000005" y1="599.1" x2="323.20000000000005" y2="601.1" stroke="#000" stroke-width="0.8" />
<line x1="326.80000000000007" y1="599.1" x2="326.80000000000007" y2="601.1" stroke="#000" stroke-width="0.8" />
<line x1="330.4000000000001" y1="599.1" x2="330.4000000000001" y2="601.1" stroke="#000" stroke-width="0.8" />
<line x1="334.0000000000001" y1="599.1" x2="334.0000000000001" y2="601.1" stroke="#000" stroke-width="0.8" />
<line x1="337.60000000000014" y1="599.1" x2="337.60000000000014" y2="601.1" stroke="#000" stroke-width="0.8" />
<line x1="341.20000000000016" y1="599.1" x2="341.20000000000016" y2="601.1" stroke="#000" stroke-width="0.8" />
<line x1="344.8000000000002" y1="599.1" x2="344.8000000000002" y2="601.1" stroke="#000" stroke-width="0.8" />
<line x1="348.4000000000002" y1="599.1" x2="348.4000000000002" y2="601.1" stroke="#000" stroke-width="0.8" />
<line x1="352.0000000000002" y1="599.1" x2="352.0000000000002" y2="601.1" stroke="#000" stroke-width="0.8" />
<line x1="355.60000000000025" y1="599.1" x2="355.60000000000025" y2="601.1" stroke="#000" stroke-width="0.8" />
<line x1="359.2000000000003" y1="599.1" x2="359.2000000000003" y2="601.1" stroke="#000" stroke-width="0.8" />
<line x1="362.8000000000003" y1="599.1" x2="362.8000000000003" y2="601.1" stroke="#000" stroke-width="0.8" />
<line x1="366.4000000000003" y1="599.1" x2="366.4000000000003" y2="601.1" stroke="#000" stroke-width="0.8" />
<line x1="370.00000000000034" y1="599.1" x2="370.00000000000034" y2="601.1" stroke="#000" stroke-width="0.8" />
<line x1="373.60000000000036" y1="599.1" x2="373.60000000000036" y2="601.1" stroke="#000" stroke-width="0.8" />
<line x1="377.2000000000004" y1="599.1" x2="377.2000000000004" y2="601.1" stroke="#000" stroke-width="0.8" />
<line x1="380.8000000000004" y1="599.1" x2="380.8000000000004" y2="601.1" stroke="#000" stroke-width="0.8" />
<line x1="384.40000000000043" y1="599.1" x2="384.40000000000043" y2="601.1" stroke="#000" stroke-width="0.8" />
<line x1="388.00000000000045" y1="599.1" x2="388.00000000000045" y2="601.1" stroke="#000" stroke-width="0.8" />
<line x1="391.6000000000005" y1="599.1" x2="391.6000000000005" y2="601.1" stroke="#000" stroke-width="0.8" />
<polyline points="316.6,598.7 335.0,598.5 342.9,598.0 344.1,591.6 345.2,568.7 346.4,534.4 347.7,505.7 349.8,522.9 351.5,551.6 352.7,580.2 354.4,597.4 360.0,598.0 370.0,597.5 376.0,596.8 382.0,597.8 392.8,598.7" fill="none" stroke="#000" stroke-width="1.9" stroke-linejoin="round" />
<polyline points="344.5,598.0 346.5,575.0 348.5,550.0 350.4,533.2 351.8,555.0 353.2,580.0 355.0,598.0" fill="none" stroke="#000" stroke-width="1.3" stroke-linejoin="round" />
<line x1="468.3" y1="505.7" x2="468.3" y2="599.0" stroke="#000" stroke-width="2.2" />
<line x1="467.8" y1="598.5" x2="535.9" y2="598.5" stroke="#000" stroke-width="2.0" />
<line x1="468.3" y1="598.5" x2="468.3" y2="602.5" stroke="#000" stroke-width="1.3" />
<line x1="481.82" y1="598.5" x2="481.82" y2="602.5" stroke="#000" stroke-width="1.3" />
<line x1="495.34" y1="598.5" x2="495.34" y2="602.5" stroke="#000" stroke-width="1.3" />
<line x1="508.86" y1="598.5" x2="508.86" y2="602.5" stroke="#000" stroke-width="1.3" />
<line x1="522.38" y1="598.5" x2="522.38" y2="602.5" stroke="#000" stroke-width="1.3" />
<line x1="535.9" y1="598.5" x2="535.9" y2="602.5" stroke="#000" stroke-width="1.3" />
<line x1="535.9" y1="596.0" x2="535.9" y2="603.0" stroke="#000" stroke-width="1.6" />
<line x1="466.3" y1="510.7" x2="468.3" y2="510.7" stroke="#000" stroke-width="0.8" />
<line x1="466.3" y1="515.3" x2="468.3" y2="515.3" stroke="#000" stroke-width="0.8" />
<line x1="466.3" y1="519.9" x2="468.3" y2="519.9" stroke="#000" stroke-width="0.8" />
<line x1="466.3" y1="524.5" x2="468.3" y2="524.5" stroke="#000" stroke-width="0.8" />
<line x1="466.3" y1="529.1" x2="468.3" y2="529.1" stroke="#000" stroke-width="0.8" />
<line x1="466.3" y1="533.7" x2="468.3" y2="533.7" stroke="#000" stroke-width="0.8" />
<line x1="466.3" y1="538.3000000000001" x2="468.3" y2="538.3000000000001" stroke="#000" stroke-width="0.8" />
<line x1="466.3" y1="542.9000000000001" x2="468.3" y2="542.9000000000001" stroke="#000" stroke-width="0.8" />
<line x1="466.3" y1="547.5000000000001" x2="468.3" y2="547.5000000000001" stroke="#000" stroke-width="0.8" />
<line x1="466.3" y1="552.1000000000001" x2="468.3" y2="552.1000000000001" stroke="#000" stroke-width="0.8" />
<line x1="466.3" y1="556.7000000000002" x2="468.3" y2="556.7000000000002" stroke="#000" stroke-width="0.8" />
<line x1="466.3" y1="561.3000000000002" x2="468.3" y2="561.3000000000002" stroke="#000" stroke-width="0.8" />
<line x1="466.3" y1="565.9000000000002" x2="468.3" y2="565.9000000000002" stroke="#000" stroke-width="0.8" />
<line x1="466.3" y1="570.5000000000002" x2="468.3" y2="570.5000000000002" stroke="#000" stroke-width="0.8" />
<line x1="466.3" y1="575.1000000000003" x2="468.3" y2="575.1000000000003" stroke="#000" stroke-width="0.8" />
<line x1="466.3" y1="579.7000000000003" x2="468.3" y2="579.7000000000003" stroke="#000" stroke-width="0.8" />
<line x1="466.3" y1="584.3000000000003" x2="468.3" y2="584.3000000000003" stroke="#000" stroke-width="0.8" />
<line x1="466.3" y1="588.9000000000003" x2="468.3" y2="588.9000000000003" stroke="#000" stroke-width="0.8" />
<line x1="466.3" y1="593.5000000000003" x2="468.3" y2="593.5000000000003" stroke="#000" stroke-width="0.8" />
<line x1="471.3" y1="598.5" x2="471.3" y2="600.5" stroke="#000" stroke-width="0.8" />
<line x1="474.90000000000003" y1="598.5" x2="474.90000000000003" y2="600.5" stroke="#000" stroke-width="0.8" />
<line x1="478.50000000000006" y1="598.5" x2="478.50000000000006" y2="600.5" stroke="#000" stroke-width="0.8" />
<line x1="482.1000000000001" y1="598.5" x2="482.1000000000001" y2="600.5" stroke="#000" stroke-width="0.8" />
<line x1="485.7000000000001" y1="598.5" x2="485.7000000000001" y2="600.5" stroke="#000" stroke-width="0.8" />
<line x1="489.3000000000001" y1="598.5" x2="489.3000000000001" y2="600.5" stroke="#000" stroke-width="0.8" />
<line x1="492.90000000000015" y1="598.5" x2="492.90000000000015" y2="600.5" stroke="#000" stroke-width="0.8" />
<line x1="496.50000000000017" y1="598.5" x2="496.50000000000017" y2="600.5" stroke="#000" stroke-width="0.8" />
<line x1="500.1000000000002" y1="598.5" x2="500.1000000000002" y2="600.5" stroke="#000" stroke-width="0.8" />
<line x1="503.7000000000002" y1="598.5" x2="503.7000000000002" y2="600.5" stroke="#000" stroke-width="0.8" />
<line x1="507.30000000000024" y1="598.5" x2="507.30000000000024" y2="600.5" stroke="#000" stroke-width="0.8" />
<line x1="510.90000000000026" y1="598.5" x2="510.90000000000026" y2="600.5" stroke="#000" stroke-width="0.8" />
<line x1="514.5000000000002" y1="598.5" x2="514.5000000000002" y2="600.5" stroke="#000" stroke-width="0.8" />
<line x1="518.1000000000003" y1="598.5" x2="518.1000000000003" y2="600.5" stroke="#000" stroke-width="0.8" />
<line x1="521.7000000000003" y1="598.5" x2="521.7000000000003" y2="600.5" stroke="#000" stroke-width="0.8" />
<line x1="525.3000000000003" y1="598.5" x2="525.3000000000003" y2="600.5" stroke="#000" stroke-width="0.8" />
<line x1="528.9000000000003" y1="598.5" x2="528.9000000000003" y2="600.5" stroke="#000" stroke-width="0.8" />
<line x1="532.5000000000003" y1="598.5" x2="532.5000000000003" y2="600.5" stroke="#000" stroke-width="0.8" />
<polyline points="468.3,598.2 484.0,598.0 485.5,595.1 500.0,595.4 512.4,595.1 517.0,591.6 519.3,580.2 521.6,557.3 523.9,534.4 525.0,522.9 526.3,527.0 527.9,520.6 529.6,534.4 531.3,557.3 533.0,580.2 534.7,596.2 535.9,598.2" fill="none" stroke="#000" stroke-width="1.9" stroke-linejoin="round" />
<polyline points="514.0,597.8 518.5,588.0 520.5,570.0 523.0,545.0 525.5,527.0 527.5,530.0 529.5,550.0 531.5,575.0 533.0,592.0 535.0,598.0" fill="none" stroke="#000" stroke-width="1.3" stroke-linejoin="round" />
<text x="104.50" y="393.60" font-family='"Liberation Serif", serif' font-weight="normal" font-size="14" textLength="59.47" lengthAdjust="spacingAndGlyphs" fill="#000" stroke="#000" stroke-width="0.5" stroke-linejoin="round" >G1:60.41%</text>
<text x="108.50" y="410.90" font-family='"Liberation Serif", serif' font-weight="normal" font-size="14" textLength="50.73" lengthAdjust="spacingAndGlyphs" fill="#000" stroke="#000" stroke-width="0.5" stroke-linejoin="round" >S:32.19%</text>
<text x="100.90" y="429.20" font-family='"Liberation Serif", serif' font-weight="normal" font-size="14" textLength="68.50" lengthAdjust="spacingAndGlyphs" fill="#000" stroke="#000" stroke-width="0.5" stroke-linejoin="round" >G2/M:7.40%</text>
<text x="223.40" y="394.20" font-family='"Liberation Serif", serif' font-weight="normal" font-size="14" textLength="59.37" lengthAdjust="spacingAndGlyphs" fill="#000" stroke="#000" stroke-width="0.5" stroke-linejoin="round" >G1:92.31%</text>
<text x="225.30" y="408.70" font-family='"Liberation Serif", serif' font-weight="normal" font-size="14" textLength="44.33" lengthAdjust="spacingAndGlyphs" fill="#000" stroke="#000" stroke-width="0.5" stroke-linejoin="round" >S:1.60%</text>
<text x="223.40" y="423.80" font-family='"Liberation Serif", serif' font-weight="normal" font-size="14" textLength="68.90" lengthAdjust="spacingAndGlyphs" fill="#000" stroke="#000" stroke-width="0.5" stroke-linejoin="round" >G2/M:6.09%</text>
<text x="362.30" y="393.60" font-family='"Liberation Serif", serif' font-weight="normal" font-size="14" textLength="51.88" lengthAdjust="spacingAndGlyphs" fill="#000" stroke="#000" stroke-width="0.5" stroke-linejoin="round" >G1:6.05%</text>
<text x="362.30" y="408.70" font-family='"Liberation Serif", serif' font-weight="normal" font-size="14" textLength="51.93" lengthAdjust="spacingAndGlyphs" fill="#000" stroke="#000" stroke-width="0.5" stroke-linejoin="round" >S:90.78%</text>
<text x="362.30" y="423.20" font-family='"Liberation Serif", serif' font-weight="normal" font-size="14" textLength="67.50" lengthAdjust="spacingAndGlyphs" fill="#000" stroke="#000" stroke-width="0.5" stroke-linejoin="round" >G2/M:3.17%</text>
<text x="515.10" y="393.20" font-family='"Liberation Serif", serif' font-weight="normal" font-size="14" textLength="53.17" lengthAdjust="spacingAndGlyphs" fill="#000" stroke="#000" stroke-width="0.5" stroke-linejoin="round" >G1:8.39%</text>
<text x="516.70" y="409.40" font-family='"Liberation Serif", serif' font-weight="normal" font-size="14" textLength="51.63" lengthAdjust="spacingAndGlyphs" fill="#000" stroke="#000" stroke-width="0.5" stroke-linejoin="round" >S:19.32%</text>
<text x="515.10" y="423.00" font-family='"Liberation Serif", serif' font-weight="normal" font-size="14" textLength="74.40" lengthAdjust="spacingAndGlyphs" fill="#000" stroke="#000" stroke-width="0.5" stroke-linejoin="round" >G2/M:72.29%</text>
<text x="117.60" y="522.20" font-family='"Liberation Serif", serif' font-weight="normal" font-size="14" textLength="59.77" lengthAdjust="spacingAndGlyphs" fill="#000" stroke="#000" stroke-width="0.5" stroke-linejoin="round" >G1:14.65%</text>
<text x="120.90" y="537.70" font-family='"Liberation Serif", serif' font-weight="normal" font-size="14" textLength="51.13" lengthAdjust="spacingAndGlyphs" fill="#000" stroke="#000" stroke-width="0.5" stroke-linejoin="round" >S:10.62%</text>
<text x="115.00" y="553.90" font-family='"Liberation Serif", serif' font-weight="normal" font-size="14" textLength="73.80" lengthAdjust="spacingAndGlyphs" fill="#000" stroke="#000" stroke-width="0.5" stroke-linejoin="round" >G2/M:74.73%</text>
<text x="225.30" y="522.30" font-family='"Liberation Serif", serif' font-weight="normal" font-size="14" textLength="59.37" lengthAdjust="spacingAndGlyphs" fill="#000" stroke="#000" stroke-width="0.5" stroke-linejoin="round" >G1:74.17%</text>
<text x="226.80" y="537.40" font-family='"Liberation Serif", serif' font-weight="normal" font-size="14" textLength="45.73" lengthAdjust="spacingAndGlyphs" fill="#000" stroke="#000" stroke-width="0.5" stroke-linejoin="round" >S:3.96%</text>
<text x="225.30" y="552.80" font-family='"Liberation Serif", serif' font-weight="normal" font-size="14" textLength="73.90" lengthAdjust="spacingAndGlyphs" fill="#000" stroke="#000" stroke-width="0.5" stroke-linejoin="round" >G2/M:21.87%</text>
<text x="357.60" y="522.20" font-family='"Liberation Serif", serif' font-weight="normal" font-size="14" textLength="59.57" lengthAdjust="spacingAndGlyphs" fill="#000" stroke="#000" stroke-width="0.5" stroke-linejoin="round" >G1:93.98%</text>
<text x="360.60" y="538.40" font-family='"Liberation Serif", serif' font-weight="normal" font-size="14" textLength="45.53" lengthAdjust="spacingAndGlyphs" fill="#000" stroke="#000" stroke-width="0.5" stroke-linejoin="round" >S:3.48%</text>
<text x="355.00" y="553.60" font-family='"Liberation Serif", serif' font-weight="normal" font-size="14" textLength="67.30" lengthAdjust="spacingAndGlyphs" fill="#000" stroke="#000" stroke-width="0.5" stroke-linejoin="round" >G2/M:2.54%</text>
<text x="534.30" y="522.20" font-family='"Liberation Serif", serif' font-weight="normal" font-size="14" textLength="53.17" lengthAdjust="spacingAndGlyphs" fill="#000" stroke="#000" stroke-width="0.5" stroke-linejoin="round" >G1:0.97%</text>
<text x="539.80" y="537.80" font-family='"Liberation Serif", serif' font-weight="normal" font-size="14" textLength="51.13" lengthAdjust="spacingAndGlyphs" fill="#000" stroke="#000" stroke-width="0.5" stroke-linejoin="round" >S:17.69%</text>
<text x="532.50" y="553.20" font-family='"Liberation Serif", serif' font-weight="normal" font-size="14" textLength="75.50" lengthAdjust="spacingAndGlyphs" fill="#000" stroke="#000" stroke-width="0.5" stroke-linejoin="round" >G2/M:81.34%</text>
<text x="61.30" y="490.30" font-family='"Liberation Serif", serif' font-weight="bold" font-size="16" textLength="55.81" lengthAdjust="spacingAndGlyphs" fill="#000" stroke="#000" stroke-width="0.25" stroke-linejoin="round" >non-syn</text>
<text x="209.20" y="490.30" font-family='"Liberation Serif", serif' font-weight="bold" font-size="16" textLength="16.72" lengthAdjust="spacingAndGlyphs" fill="#000" stroke="#000" stroke-width="0.25" stroke-linejoin="round" >0h</text>
<text x="341.60" y="490.30" font-family='"Liberation Serif", serif' font-weight="bold" font-size="16" textLength="16.52" lengthAdjust="spacingAndGlyphs" fill="#000" stroke="#000" stroke-width="0.25" stroke-linejoin="round" >3h</text>
<text x="487.30" y="490.40" font-family='"Liberation Serif", serif' font-weight="bold" font-size="16" textLength="16.52" lengthAdjust="spacingAndGlyphs" fill="#000" stroke="#000" stroke-width="0.25" stroke-linejoin="round" >6h</text>
<text x="79.70" y="614.30" font-family='"Liberation Serif", serif' font-weight="bold" font-size="16" textLength="16.42" lengthAdjust="spacingAndGlyphs" fill="#000" stroke="#000" stroke-width="0.25" stroke-linejoin="round" >8h</text>
<text x="213.10" y="614.40" font-family='"Liberation Serif", serif' font-weight="bold" font-size="16" textLength="23.72" lengthAdjust="spacingAndGlyphs" fill="#000" stroke="#000" stroke-width="0.25" stroke-linejoin="round" >10h</text>
<text x="339.40" y="614.40" font-family='"Liberation Serif", serif' font-weight="bold" font-size="16" textLength="24.92" lengthAdjust="spacingAndGlyphs" fill="#000" stroke="#000" stroke-width="0.25" stroke-linejoin="round" >12h</text>
<text x="460.80" y="614.20" font-family='"Liberation Serif", serif' font-weight="bold" font-size="16" textLength="85.70" lengthAdjust="spacingAndGlyphs" fill="#000" stroke="#000" stroke-width="0.25" stroke-linejoin="round" >G2/M phase</text>
<text x="14.00" y="653.70" font-family='"Liberation Serif", serif' font-weight="bold" font-size="21" textLength="13.03" lengthAdjust="spacingAndGlyphs" fill="#000" stroke="#000" stroke-width="0.35" stroke-linejoin="round" >d</text>
<line x1="110.9" y1="654.5" x2="110.9" y2="795" stroke="#000" stroke-width="1.7" />
<line x1="110.2" y1="794.2" x2="623.8" y2="794.2" stroke="#000" stroke-width="1.8" />
<line x1="110.9" y1="655.4000000000001" x2="114.5" y2="655.4000000000001" stroke="#000" stroke-width="1.5" />
<line x1="110.9" y1="683.1600000000001" x2="114.5" y2="683.1600000000001" stroke="#000" stroke-width="1.5" />
<line x1="110.9" y1="710.9200000000001" x2="114.5" y2="710.9200000000001" stroke="#000" stroke-width="1.5" />
<line x1="110.9" y1="738.6800000000001" x2="114.5" y2="738.6800000000001" stroke="#000" stroke-width="1.5" />
<line x1="110.9" y1="766.44" x2="114.5" y2="766.44" stroke="#000" stroke-width="1.5" />
<text x="83.40" y="661.60" font-family='"Liberation Sans", sans-serif' font-weight="bold" font-size="16.5" textLength="17.64" lengthAdjust="spacingAndGlyphs" fill="#000" stroke="#000" stroke-width="0.5" stroke-linejoin="round" >20</text>
<text x="83.40" y="689.36" font-family='"Liberation Sans", sans-serif' font-weight="bold" font-size="16.5" textLength="17.64" lengthAdjust="spacingAndGlyphs" fill="#000" stroke="#000" stroke-width="0.5" stroke-linejoin="round" >16</text>
<text x="83.40" y="717.12" font-family='"Liberation Sans", sans-serif' font-weight="bold" font-size="16.5" textLength="17.64" lengthAdjust="spacingAndGlyphs" fill="#000" stroke="#000" stroke-width="0.5" stroke-linejoin="round" >12</text>
<text x="92.40" y="744.88" font-family='"Liberation Sans", sans-serif' font-weight="bold" font-size="16.5" textLength="8.62" lengthAdjust="spacingAndGlyphs" fill="#000" stroke="#000" stroke-width="0.5" stroke-linejoin="round" >8</text>
<text x="92.40" y="772.64" font-family='"Liberation Sans", sans-serif' font-weight="bold" font-size="16.5" textLength="8.62" lengthAdjust="spacingAndGlyphs" fill="#000" stroke="#000" stroke-width="0.5" stroke-linejoin="round" >4</text>
<text x="92.40" y="800.40" font-family='"Liberation Sans", sans-serif' font-weight="bold" font-size="16.5" textLength="8.62" lengthAdjust="spacingAndGlyphs" fill="#000" stroke="#000" stroke-width="0.5" stroke-linejoin="round" >0</text>
<text transform="translate(70.00,828.90) rotate(-90)" x="0" y="0" font-family='"Liberation Sans", sans-serif' font-weight="bold" font-size="18.3" textLength="195.86" lengthAdjust="spacingAndGlyphs" fill="#000" stroke="#000" stroke-width="0.5" stroke-linejoin="round">Relative FRZB expression</text>
<rect x="129.7" y="755.8" width="24.9" height="38.4" fill="#5c5c5c" stroke="#000" stroke-width="2.1" />
<line x1="141.9" y1="751.1999999999999" x2="141.9" y2="760.0" stroke="#000" stroke-width="2.1" />
<line x1="138.20000000000002" y1="751.1999999999999" x2="145.6" y2="751.1999999999999" stroke="#000" stroke-width="2.1" />
<line x1="138.20000000000002" y1="760.0" x2="145.6" y2="760.0" stroke="#000" stroke-width="2.1" />
<rect x="193.7" y="759.2" width="24.9" height="35.0" fill="#5c5c5c" stroke="#000" stroke-width="2.1" />
<line x1="206" y1="754.0999999999999" x2="206" y2="764.4000000000001" stroke="#000" stroke-width="2.1" />
<line x1="202.3" y1="754.0999999999999" x2="209.7" y2="754.0999999999999" stroke="#000" stroke-width="2.1" />
<line x1="202.3" y1="764.4000000000001" x2="209.7" y2="764.4000000000001" stroke="#000" stroke-width="2.1" />
<rect x="258.4" y="751.5" width="24.6" height="42.7" fill="#5c5c5c" stroke="#000" stroke-width="2.1" />
<line x1="270" y1="743.5999999999999" x2="270" y2="758.0" stroke="#000" stroke-width="2.1" />
<line x1="266.3" y1="743.5999999999999" x2="273.7" y2="743.5999999999999" stroke="#000" stroke-width="2.1" />
<line x1="266.3" y1="758.0" x2="273.7" y2="758.0" stroke="#000" stroke-width="2.1" />
<rect x="320.8" y="748.5" width="26.8" height="45.7" fill="#5c5c5c" stroke="#000" stroke-width="2.1" />
<line x1="334.1" y1="735.9" x2="334.1" y2="760.1" stroke="#000" stroke-width="2.1" />
<line x1="330.40000000000003" y1="735.9" x2="337.8" y2="735.9" stroke="#000" stroke-width="2.1" />
<line x1="330.40000000000003" y1="760.1" x2="337.8" y2="760.1" stroke="#000" stroke-width="2.1" />
<rect x="386.8" y="697.2" width="24.6" height="97.0" fill="#5c5c5c" stroke="#000" stroke-width="2.1" />
<line x1="398.7" y1="686.5999999999999" x2="398.7" y2="706.4000000000001" stroke="#000" stroke-width="2.1" />
<line x1="395.0" y1="686.5999999999999" x2="402.4" y2="686.5999999999999" stroke="#000" stroke-width="2.1" />
<line x1="395.0" y1="706.4000000000001" x2="402.4" y2="706.4000000000001" stroke="#000" stroke-width="2.1" />
<rect x="449.4" y="744.2" width="26.1" height="50.0" fill="#5c5c5c" stroke="#000" stroke-width="2.1" />
<line x1="462.2" y1="735.8" x2="462.2" y2="752.5" stroke="#000" stroke-width="2.1" />
<line x1="458.5" y1="735.8" x2="465.9" y2="735.8" stroke="#000" stroke-width="2.1" />
<line x1="458.5" y1="752.5" x2="465.9" y2="752.5" stroke="#000" stroke-width="2.1" />
<rect x="513.3" y="751.7" width="26.8" height="42.5" fill="#5c5c5c" stroke="#000" stroke-width="2.1" />
<line x1="526.3" y1="748.1999999999999" x2="526.3" y2="754.8000000000001" stroke="#000" stroke-width="2.1" />
<line x1="522.5999999999999" y1="748.1999999999999" x2="530.0" y2="748.1999999999999" stroke="#000" stroke-width="2.1" />
<line x1="522.5999999999999" y1="754.8000000000001" x2="530.0" y2="754.8000000000001" stroke="#000" stroke-width="2.1" />
<rect x="578.1" y="698.4" width="25.9" height="95.8" fill="#5c5c5c" stroke="#000" stroke-width="2.1" />
<line x1="590.7" y1="685.4" x2="590.7" y2="710.1" stroke="#000" stroke-width="2.1" />
<line x1="587.0" y1="685.4" x2="594.4000000000001" y2="685.4" stroke="#000" stroke-width="2.1" />
<line x1="587.0" y1="710.1" x2="594.4000000000001" y2="710.1" stroke="#000" stroke-width="2.1" />
<line x1="174.7" y1="790.7" x2="174.7" y2="794.2" stroke="#000" stroke-width="1.3" />
<line x1="239.2" y1="790.7" x2="239.2" y2="794.2" stroke="#000" stroke-width="1.3" />
<line x1="303" y1="790.7" x2="303" y2="794.2" stroke="#000" stroke-width="1.3" />
<line x1="367.5" y1="790.7" x2="367.5" y2="794.2" stroke="#000" stroke-width="1.3" />
<line x1="432" y1="790.7" x2="432" y2="794.2" stroke="#000" stroke-width="1.3" />
<line x1="495.8" y1="790.7" x2="495.8" y2="794.2" stroke="#000" stroke-width="1.3" />
<line x1="559" y1="790.7" x2="559" y2="794.2" stroke="#000" stroke-width="1.3" />
<line x1="623.4" y1="790.7" x2="623.4" y2="794.2" stroke="#000" stroke-width="1.3" />
<text x="107.50" y="813.90" font-family='"Liberation Serif", serif' font-weight="normal" font-size="21.5" textLength="69.35" lengthAdjust="spacingAndGlyphs" fill="#000" stroke="#000" stroke-width="0.75" stroke-linejoin="round" >non-syn</text>
<text x="201.90" y="813.90" font-family='"Liberation Serif", serif' font-weight="normal" font-size="21.5" textLength="8.60" lengthAdjust="spacingAndGlyphs" fill="#000" stroke="#000" stroke-width="0.75" stroke-linejoin="round" >0</text>
<text x="263.60" y="813.90" font-family='"Liberation Serif", serif' font-weight="normal" font-size="21.5" textLength="8.90" lengthAdjust="spacingAndGlyphs" fill="#000" stroke="#000" stroke-width="0.75" stroke-linejoin="round" >3</text>
<text x="325.60" y="813.90" font-family='"Liberation Serif", serif' font-weight="normal" font-size="21.5" textLength="9.40" lengthAdjust="spacingAndGlyphs" fill="#000" stroke="#000" stroke-width="0.75" stroke-linejoin="round" >6</text>
<text x="394.30" y="813.90" font-family='"Liberation Serif", serif' font-weight="normal" font-size="21.5" textLength="9.50" lengthAdjust="spacingAndGlyphs" fill="#000" stroke="#000" stroke-width="0.75" stroke-linejoin="round" >8</text>
<text x="450.90" y="813.90" font-family='"Liberation Serif", serif' font-weight="normal" font-size="21.5" textLength="19.50" lengthAdjust="spacingAndGlyphs" fill="#000" stroke="#000" stroke-width="0.75" stroke-linejoin="round" >10</text>
<text x="514.40" y="813.90" font-family='"Liberation Serif", serif' font-weight="normal" font-size="21.5" textLength="18.20" lengthAdjust="spacingAndGlyphs" fill="#000" stroke="#000" stroke-width="0.75" stroke-linejoin="round" >12</text>
<text x="563.00" y="813.90" font-family='"Liberation Serif", serif' font-weight="normal" font-size="21.5" textLength="105.92" lengthAdjust="spacingAndGlyphs" fill="#000" stroke="#000" stroke-width="0.75" stroke-linejoin="round" >G2/M phase</text>
<line x1="196.8" y1="822.5" x2="543.3" y2="822.5" stroke="#000" stroke-width="1.8" />
<text x="185.40" y="838.80" font-family='"Liberation Serif", serif' font-weight="bold" font-size="21.5" textLength="379.82" lengthAdjust="spacingAndGlyphs" fill="#000" >Released from double thymidine block, hrs</text>
<text x="19.30" y="877.80" font-family='"Liberation Serif", serif' font-weight="bold" font-size="22" textLength="10.07" lengthAdjust="spacingAndGlyphs" fill="#000" stroke="#000" stroke-width="0.35" stroke-linejoin="round" >e</text>
<text x="105.10" y="873.50" font-family='"Liberation Serif", serif' font-weight="bold" font-size="20.5" textLength="70.81" lengthAdjust="spacingAndGlyphs" fill="#000" stroke="#000" stroke-width="0.3" stroke-linejoin="round" >non-syn</text>
<text x="204.80" y="873.50" font-family='"Liberation Serif", serif' font-weight="normal" font-size="20.5" textLength="11.30" lengthAdjust="spacingAndGlyphs" fill="#000" stroke="#000" stroke-width="1.0" stroke-linejoin="round" >0</text>
<text x="261.40" y="873.50" font-family='"Liberation Serif", serif' font-weight="normal" font-size="20.5" textLength="10.00" lengthAdjust="spacingAndGlyphs" fill="#000" stroke="#000" stroke-width="1.0" stroke-linejoin="round" >3</text>
<text x="324.00" y="873.50" font-family='"Liberation Serif", serif' font-weight="normal" font-size="20.5" textLength="10.70" lengthAdjust="spacingAndGlyphs" fill="#000" stroke="#000" stroke-width="1.0" stroke-linejoin="round" >6</text>
<text x="387.00" y="873.50" font-family='"Liberation Serif", serif' font-weight="normal" font-size="20.5" textLength="10.10" lengthAdjust="spacingAndGlyphs" fill="#000" stroke="#000" stroke-width="1.0" stroke-linejoin="round" >8</text>
<text x="444.80" y="873.50" font-family='"Liberation Serif", serif' font-weight="normal" font-size="20.5" textLength="20.60" lengthAdjust="spacingAndGlyphs" fill="#000" stroke="#000" stroke-width="1.0" stroke-linejoin="round" >10</text>
<text x="507.50" y="873.50" font-family='"Liberation Serif", serif' font-weight="normal" font-size="20.5" textLength="19.40" lengthAdjust="spacingAndGlyphs" fill="#000" stroke="#000" stroke-width="1.0" stroke-linejoin="round" >12</text>
<text x="550.00" y="873.50" font-family='"Liberation Serif", serif' font-weight="normal" font-size="20.5" textLength="106.32" lengthAdjust="spacingAndGlyphs" fill="#000" stroke="#000" stroke-width="1.0" stroke-linejoin="round" >G2/M phase</text>
<text x="55.20" y="900.20" font-family='"Liberation Serif", serif' font-weight="normal" font-size="20.7" textLength="52.52" lengthAdjust="spacingAndGlyphs" fill="#000" stroke="#000" stroke-width="0.6" stroke-linejoin="round" >FRZB</text>
<text x="31.50" y="930.70" font-family='"Liberation Serif", serif' font-weight="normal" font-size="20.7" textLength="86.17" lengthAdjust="spacingAndGlyphs" fill="#000" stroke="#000" stroke-width="0.6" stroke-linejoin="round" >Cyclin B1</text>
<text x="43.80" y="962.70" font-family='"Liberation Serif", serif' font-weight="normal" font-size="20.7" textLength="72.70" lengthAdjust="spacingAndGlyphs" fill="#000" stroke="#000" stroke-width="0.6" stroke-linejoin="round" >GAPDH</text>
<defs>
<filter id="b1" filterUnits="userSpaceOnUse" x="100" y="870" width="540" height="120"><feGaussianBlur stdDeviation="1.5 1.1"/></filter>
<filter id="b2" filterUnits="userSpaceOnUse" x="100" y="870" width="540" height="120"><feGaussianBlur stdDeviation="2.5 1.8"/></filter>
<filter id="b3" filterUnits="userSpaceOnUse" x="100" y="870" width="540" height="120"><feGaussianBlur stdDeviation="4"/></filter>
<clipPath id="cp1"><rect x="124" y="885" width="487.6" height="27"/></clipPath>
<clipPath id="cp2"><rect x="124" y="919.2" width="487.6" height="21.6"/></clipPath>
<clipPath id="cp3"><rect x="124" y="948.5" width="487.6" height="24.3"/></clipPath>
</defs>
<g clip-path="url(#cp1)">
<rect x="123.0" y="884.4" width="489.0" height="28.0" fill="#a9a9a9" stroke="none" stroke-width="0" />
<rect x="123" y="887" width="489" height="2.5" fill="#c4c4c4" filter="url(#b1)"/>
<rect x="123" y="908.5" width="489" height="2" fill="#bdbdbd" filter="url(#b1)"/>
<rect x="173.0" y="884" width="14" height="30" fill="#b8b8b8" filter="url(#b3)"/>
<rect x="237.0" y="884" width="10" height="30" fill="#b4b4b4" filter="url(#b3)"/>
<rect x="298.0" y="884" width="10" height="30" fill="#b6b6b6" filter="url(#b3)"/>
<rect x="358.0" y="884" width="12" height="30" fill="#b4b4b4" filter="url(#b3)"/>
<rect x="420.0" y="884" width="10" height="30" fill="#b8b8b8" filter="url(#b3)"/>
<rect x="480.0" y="884" width="12" height="30" fill="#b6b6b6" filter="url(#b3)"/>
<rect x="541.0" y="884" width="18" height="30" fill="#c0c0c0" filter="url(#b3)"/>
<rect x="602.0" y="884" width="8" height="30" fill="#b8b8b8" filter="url(#b3)"/>
<rect x="134.0" y="893.1" width="31.5" height="7.6" rx="3.8" ry="3.8" fill="#4e4e4e" filter="url(#b2)"/>
<rect x="191.0" y="893.8" width="39.5" height="8.7" rx="4.0" ry="4.4" fill="#333" filter="url(#b2)"/>
<rect x="253.0" y="895.3" width="38.7" height="9.0" rx="4.0" ry="4.5" fill="#1a1a1a" filter="url(#b2)"/>
<rect x="314.5" y="896.3" width="37.0" height="8.6" rx="4.0" ry="4.3" fill="#232323" filter="url(#b2)"/>
<rect x="375.0" y="896.3" width="38.5" height="8.6" rx="4.0" ry="4.3" fill="#232323" filter="url(#b2)"/>
<rect x="435.5" y="896.3" width="37.5" height="8.6" rx="4.0" ry="4.3" fill="#2c2c2c" filter="url(#b2)"/>
<rect x="497.0" y="896.8" width="37.5" height="8.4" rx="4.0" ry="4.2" fill="#4a4a4a" filter="url(#b2)"/>
<ellipse cx="583.5" cy="896.8" rx="18.5" ry="8" fill="#555" filter="url(#b2)"/>
<ellipse cx="583" cy="896.5" rx="13" ry="5" fill="#333" filter="url(#b2)"/>
</g>
<rect x="123.8" y="885.6" width="487.8" height="26.0" fill="none" stroke="#000" stroke-width="2.4" />
<g clip-path="url(#cp2)">
<rect x="123.0" y="918.0" width="489.0" height="24.0" fill="#7e7e7e" stroke="none" stroke-width="0" />
<rect x="125.0" y="916" width="40" height="28" fill="#3c3c3c" filter="url(#b3)"/>
<rect x="167.0" y="916" width="10" height="28" fill="#747474" filter="url(#b3)"/>
<rect x="183.5" y="916" width="7" height="28" fill="#c4c4c4" filter="url(#b3)"/>
<rect x="192.0" y="916" width="40" height="28" fill="#5a5a5a" filter="url(#b3)"/>
<rect x="238.0" y="916" width="10" height="28" fill="#989898" filter="url(#b3)"/>
<rect x="250.0" y="916" width="24" height="28" fill="#8e8e8e" filter="url(#b3)"/>
<rect x="300.0" y="916" width="8" height="28" fill="#d0d0d0" filter="url(#b3)"/>
<rect x="312.0" y="916" width="44" height="28" fill="#333" filter="url(#b3)"/>
<rect x="362.0" y="916" width="8" height="28" fill="#8a8a8a" filter="url(#b3)"/>
<rect x="373.0" y="916" width="44" height="28" fill="#2a2a2a" filter="url(#b3)"/>
<rect x="421.0" y="916" width="8" height="28" fill="#9a9a9a" filter="url(#b3)"/>
<rect x="433.0" y="916" width="44" height="28" fill="#5e5e5e" filter="url(#b3)"/>
<rect x="481.0" y="916" width="10" height="28" fill="#909090" filter="url(#b3)"/>
<rect x="494.0" y="916" width="44" height="28" fill="#8c8c8c" filter="url(#b3)"/>
<rect x="543.0" y="916" width="10" height="28" fill="#b0b0b0" filter="url(#b3)"/>
<rect x="563.0" y="916" width="40" height="28" fill="#707070" filter="url(#b3)"/>
<rect x="604.0" y="916" width="8" height="28" fill="#a0a0a0" filter="url(#b3)"/>
<rect x="254.2" y="925.2" width="38.2" height="10.6" rx="4.0" ry="5.3" fill="#505050" filter="url(#b2)"/>
<rect x="313.8" y="924.7" width="38.0" height="11.6" rx="4.0" ry="5.8" fill="#222" filter="url(#b2)"/>
<rect x="373.3" y="924.4" width="42.5" height="12.4" rx="4.0" ry="6.2" fill="#161616" filter="url(#b2)"/>
<rect x="435.5" y="925.2" width="39.9" height="11.1" rx="4.0" ry="5.5" fill="#444" filter="url(#b2)"/>
<path d="M563,931 C563,924.5 571,924 580,925.5 C590,927.5 597,929 601,929.8 L601,932.6 C595,933.5 588,935.5 578,937.2 C570,938.5 563,938 563,931 Z" fill="#181818" filter="url(#b1)"/>
</g>
<rect x="123.8" y="919.6" width="487.8" height="21.2" fill="none" stroke="#000" stroke-width="2.4" />
<g clip-path="url(#cp3)">
<rect x="123.0" y="947.0" width="489.0" height="27.0" fill="#bababa" stroke="none" stroke-width="0" />
<rect x="134.1" y="953.7" width="37.5" height="9.2" rx="4.0" ry="4.6" fill="#121212" filter="url(#b1)"/>
<rect x="189.2" y="952.7" width="45.5" height="12.8" rx="4.0" ry="6.4" fill="#121212" filter="url(#b1)"/>
<rect x="251.5" y="955.6" width="41.9" height="10.5" rx="4.0" ry="5.2" fill="#121212" filter="url(#b1)"/>
<rect x="312.8" y="954.9" width="43.6" height="11.2" rx="4.0" ry="5.6" fill="#121212" filter="url(#b1)"/>
<rect x="374.1" y="954.1" width="42.7" height="11.8" rx="4.0" ry="5.9" fill="#121212" filter="url(#b1)"/>
<rect x="434.5" y="953.7" width="42.8" height="10.8" rx="4.0" ry="5.4" fill="#121212" filter="url(#b1)"/>
<rect x="495.2" y="952.7" width="47.9" height="10.2" rx="4.0" ry="5.1" fill="#121212" filter="url(#b1)"/>
<path d="M561.5,954.5 C570,951.5 585,950.5 600.5,950.5 L600.5,956 C592,960 578,961.5 563,961 Z" fill="#121212" filter="url(#b1)"/>
</g>
<rect x="123.8" y="948.1" width="487.8" height="24.6" fill="none" stroke="#000" stroke-width="2.4" />
<line x1="617" y1="918.7" x2="680" y2="918.7" stroke="#f2f2f2" stroke-width="1.0" />
<line x1="382" y1="28" x2="382" y2="135" stroke="#f3f3f3" stroke-width="1.0" />
</svg>
</body></html>
